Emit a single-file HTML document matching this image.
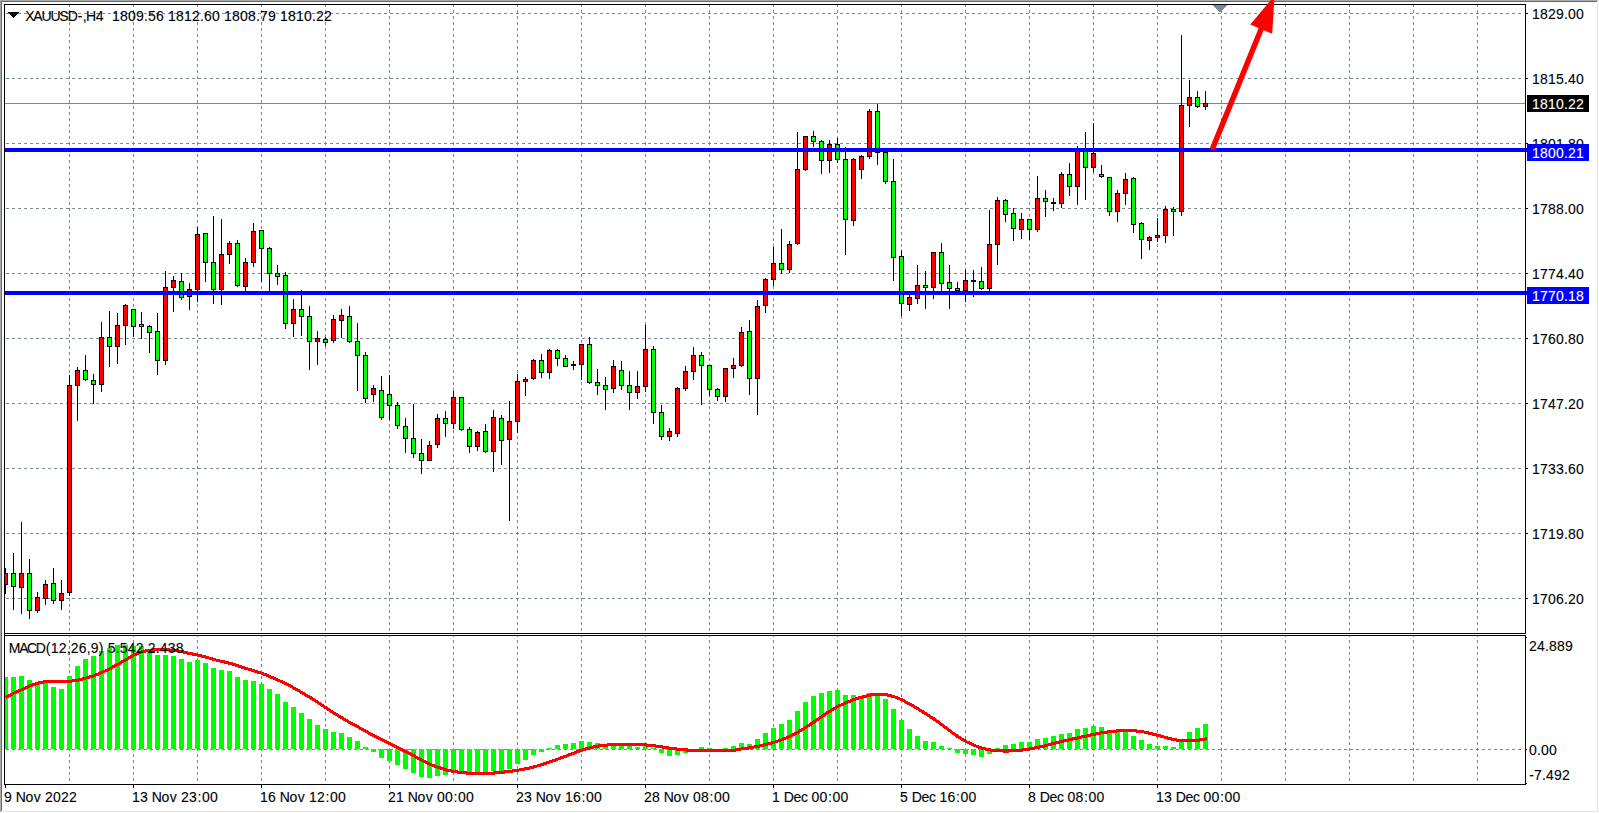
<!DOCTYPE html>
<html><head><meta charset="utf-8"><title>XAUUSD-,H4</title>
<style>
html,body{margin:0;padding:0;background:#fff;}
body{width:1599px;height:813px;overflow:hidden;}
svg{display:block;}
text{font-family:"Liberation Sans",sans-serif;font-size:14px;fill:#000;stroke:#000;stroke-width:0.1px;}
.w{fill:#fff;stroke:#fff;}
</style></head><body>
<svg width="1599" height="813" viewBox="0 0 1599 813">
<rect width="1599" height="813" fill="#fff"/>
<g shape-rendering="crispEdges">
<rect x="0" y="0" width="1598" height="1" fill="#a9a9a9"/>
<rect x="0" y="0" width="1" height="812" fill="#a9a9a9"/>
<rect x="1" y="1" width="1596" height="1" fill="#696969"/>
<rect x="1" y="1" width="1" height="810" fill="#696969"/>
<rect x="1597" y="2" width="1" height="810" fill="#e3e3e3"/>
<rect x="2" y="811" width="1596" height="1" fill="#e3e3e3"/>
<path d="M6 13.5H9M12 13.5H15M18 13.5H21M24 13.5H27M30 13.5H33M36 13.5H39M42 13.5H45M48 13.5H51M54 13.5H57M60 13.5H63M66 13.5H69M72 13.5H75M78 13.5H81M84 13.5H87M90 13.5H93M96 13.5H99M102 13.5H105M108 13.5H111M114 13.5H117M120 13.5H123M126 13.5H129M132 13.5H135M138 13.5H141M144 13.5H147M150 13.5H153M156 13.5H159M162 13.5H165M168 13.5H171M174 13.5H177M180 13.5H183M186 13.5H189M192 13.5H195M198 13.5H201M204 13.5H207M210 13.5H213M216 13.5H219M222 13.5H225M228 13.5H231M234 13.5H237M240 13.5H243M246 13.5H249M252 13.5H255M258 13.5H261M264 13.5H267M270 13.5H273M276 13.5H279M282 13.5H285M288 13.5H291M294 13.5H297M300 13.5H303M306 13.5H309M312 13.5H315M318 13.5H321M324 13.5H327M330 13.5H333M336 13.5H339M342 13.5H345M348 13.5H351M354 13.5H357M360 13.5H363M366 13.5H369M372 13.5H375M378 13.5H381M384 13.5H387M390 13.5H393M396 13.5H399M402 13.5H405M408 13.5H411M414 13.5H417M420 13.5H423M426 13.5H429M432 13.5H435M438 13.5H441M444 13.5H447M450 13.5H453M456 13.5H459M462 13.5H465M468 13.5H471M474 13.5H477M480 13.5H483M486 13.5H489M492 13.5H495M498 13.5H501M504 13.5H507M510 13.5H513M516 13.5H519M522 13.5H525M528 13.5H531M534 13.5H537M540 13.5H543M546 13.5H549M552 13.5H555M558 13.5H561M564 13.5H567M570 13.5H573M576 13.5H579M582 13.5H585M588 13.5H591M594 13.5H597M600 13.5H603M606 13.5H609M612 13.5H615M618 13.5H621M624 13.5H627M630 13.5H633M636 13.5H639M642 13.5H645M648 13.5H651M654 13.5H657M660 13.5H663M666 13.5H669M672 13.5H675M678 13.5H681M684 13.5H687M690 13.5H693M696 13.5H699M702 13.5H705M708 13.5H711M714 13.5H717M720 13.5H723M726 13.5H729M732 13.5H735M738 13.5H741M744 13.5H747M750 13.5H753M756 13.5H759M762 13.5H765M768 13.5H771M774 13.5H777M780 13.5H783M786 13.5H789M792 13.5H795M798 13.5H801M804 13.5H807M810 13.5H813M816 13.5H819M822 13.5H825M828 13.5H831M834 13.5H837M840 13.5H843M846 13.5H849M852 13.5H855M858 13.5H861M864 13.5H867M870 13.5H873M876 13.5H879M882 13.5H885M888 13.5H891M894 13.5H897M900 13.5H903M906 13.5H909M912 13.5H915M918 13.5H921M924 13.5H927M930 13.5H933M936 13.5H939M942 13.5H945M948 13.5H951M954 13.5H957M960 13.5H963M966 13.5H969M972 13.5H975M978 13.5H981M984 13.5H987M990 13.5H993M996 13.5H999M1002 13.5H1005M1008 13.5H1011M1014 13.5H1017M1020 13.5H1023M1026 13.5H1029M1032 13.5H1035M1038 13.5H1041M1044 13.5H1047M1050 13.5H1053M1056 13.5H1059M1062 13.5H1065M1068 13.5H1071M1074 13.5H1077M1080 13.5H1083M1086 13.5H1089M1092 13.5H1095M1098 13.5H1101M1104 13.5H1107M1110 13.5H1113M1116 13.5H1119M1122 13.5H1125M1128 13.5H1131M1134 13.5H1137M1140 13.5H1143M1146 13.5H1149M1152 13.5H1155M1158 13.5H1161M1164 13.5H1167M1170 13.5H1173M1176 13.5H1179M1182 13.5H1185M1188 13.5H1191M1194 13.5H1197M1200 13.5H1203M1206 13.5H1209M1212 13.5H1215M1218 13.5H1221M1224 13.5H1227M1230 13.5H1233M1236 13.5H1239M1242 13.5H1245M1248 13.5H1251M1254 13.5H1257M1260 13.5H1263M1266 13.5H1269M1272 13.5H1275M1278 13.5H1281M1284 13.5H1287M1290 13.5H1293M1296 13.5H1299M1302 13.5H1305M1308 13.5H1311M1314 13.5H1317M1320 13.5H1323M1326 13.5H1329M1332 13.5H1335M1338 13.5H1341M1344 13.5H1347M1350 13.5H1353M1356 13.5H1359M1362 13.5H1365M1368 13.5H1371M1374 13.5H1377M1380 13.5H1383M1386 13.5H1389M1392 13.5H1395M1398 13.5H1401M1404 13.5H1407M1410 13.5H1413M1416 13.5H1419M1422 13.5H1425M1428 13.5H1431M1434 13.5H1437M1440 13.5H1443M1446 13.5H1449M1452 13.5H1455M1458 13.5H1461M1464 13.5H1467M1470 13.5H1473M1476 13.5H1479M1482 13.5H1485M1488 13.5H1491M1494 13.5H1497M1500 13.5H1503M1506 13.5H1509M1512 13.5H1515M1518 13.5H1521M6 78.5H9M12 78.5H15M18 78.5H21M24 78.5H27M30 78.5H33M36 78.5H39M42 78.5H45M48 78.5H51M54 78.5H57M60 78.5H63M66 78.5H69M72 78.5H75M78 78.5H81M84 78.5H87M90 78.5H93M96 78.5H99M102 78.5H105M108 78.5H111M114 78.5H117M120 78.5H123M126 78.5H129M132 78.5H135M138 78.5H141M144 78.5H147M150 78.5H153M156 78.5H159M162 78.5H165M168 78.5H171M174 78.5H177M180 78.5H183M186 78.5H189M192 78.5H195M198 78.5H201M204 78.5H207M210 78.5H213M216 78.5H219M222 78.5H225M228 78.5H231M234 78.5H237M240 78.5H243M246 78.5H249M252 78.5H255M258 78.5H261M264 78.5H267M270 78.5H273M276 78.5H279M282 78.5H285M288 78.5H291M294 78.5H297M300 78.5H303M306 78.5H309M312 78.5H315M318 78.5H321M324 78.5H327M330 78.5H333M336 78.5H339M342 78.5H345M348 78.5H351M354 78.5H357M360 78.5H363M366 78.5H369M372 78.5H375M378 78.5H381M384 78.5H387M390 78.5H393M396 78.5H399M402 78.5H405M408 78.5H411M414 78.5H417M420 78.5H423M426 78.5H429M432 78.5H435M438 78.5H441M444 78.5H447M450 78.5H453M456 78.5H459M462 78.5H465M468 78.5H471M474 78.5H477M480 78.5H483M486 78.5H489M492 78.5H495M498 78.5H501M504 78.5H507M510 78.5H513M516 78.5H519M522 78.5H525M528 78.5H531M534 78.5H537M540 78.5H543M546 78.5H549M552 78.5H555M558 78.5H561M564 78.5H567M570 78.5H573M576 78.5H579M582 78.5H585M588 78.5H591M594 78.5H597M600 78.5H603M606 78.5H609M612 78.5H615M618 78.5H621M624 78.5H627M630 78.5H633M636 78.5H639M642 78.5H645M648 78.5H651M654 78.5H657M660 78.5H663M666 78.5H669M672 78.5H675M678 78.5H681M684 78.5H687M690 78.5H693M696 78.5H699M702 78.5H705M708 78.5H711M714 78.5H717M720 78.5H723M726 78.5H729M732 78.5H735M738 78.5H741M744 78.5H747M750 78.5H753M756 78.5H759M762 78.5H765M768 78.5H771M774 78.5H777M780 78.5H783M786 78.5H789M792 78.5H795M798 78.5H801M804 78.5H807M810 78.5H813M816 78.5H819M822 78.5H825M828 78.5H831M834 78.5H837M840 78.5H843M846 78.5H849M852 78.5H855M858 78.5H861M864 78.5H867M870 78.5H873M876 78.5H879M882 78.5H885M888 78.5H891M894 78.5H897M900 78.5H903M906 78.5H909M912 78.5H915M918 78.5H921M924 78.5H927M930 78.5H933M936 78.5H939M942 78.5H945M948 78.5H951M954 78.5H957M960 78.5H963M966 78.5H969M972 78.5H975M978 78.5H981M984 78.5H987M990 78.5H993M996 78.5H999M1002 78.5H1005M1008 78.5H1011M1014 78.5H1017M1020 78.5H1023M1026 78.5H1029M1032 78.5H1035M1038 78.5H1041M1044 78.5H1047M1050 78.5H1053M1056 78.5H1059M1062 78.5H1065M1068 78.5H1071M1074 78.5H1077M1080 78.5H1083M1086 78.5H1089M1092 78.5H1095M1098 78.5H1101M1104 78.5H1107M1110 78.5H1113M1116 78.5H1119M1122 78.5H1125M1128 78.5H1131M1134 78.5H1137M1140 78.5H1143M1146 78.5H1149M1152 78.5H1155M1158 78.5H1161M1164 78.5H1167M1170 78.5H1173M1176 78.5H1179M1182 78.5H1185M1188 78.5H1191M1194 78.5H1197M1200 78.5H1203M1206 78.5H1209M1212 78.5H1215M1218 78.5H1221M1224 78.5H1227M1230 78.5H1233M1236 78.5H1239M1242 78.5H1245M1248 78.5H1251M1254 78.5H1257M1260 78.5H1263M1266 78.5H1269M1272 78.5H1275M1278 78.5H1281M1284 78.5H1287M1290 78.5H1293M1296 78.5H1299M1302 78.5H1305M1308 78.5H1311M1314 78.5H1317M1320 78.5H1323M1326 78.5H1329M1332 78.5H1335M1338 78.5H1341M1344 78.5H1347M1350 78.5H1353M1356 78.5H1359M1362 78.5H1365M1368 78.5H1371M1374 78.5H1377M1380 78.5H1383M1386 78.5H1389M1392 78.5H1395M1398 78.5H1401M1404 78.5H1407M1410 78.5H1413M1416 78.5H1419M1422 78.5H1425M1428 78.5H1431M1434 78.5H1437M1440 78.5H1443M1446 78.5H1449M1452 78.5H1455M1458 78.5H1461M1464 78.5H1467M1470 78.5H1473M1476 78.5H1479M1482 78.5H1485M1488 78.5H1491M1494 78.5H1497M1500 78.5H1503M1506 78.5H1509M1512 78.5H1515M1518 78.5H1521M6 143.5H9M12 143.5H15M18 143.5H21M24 143.5H27M30 143.5H33M36 143.5H39M42 143.5H45M48 143.5H51M54 143.5H57M60 143.5H63M66 143.5H69M72 143.5H75M78 143.5H81M84 143.5H87M90 143.5H93M96 143.5H99M102 143.5H105M108 143.5H111M114 143.5H117M120 143.5H123M126 143.5H129M132 143.5H135M138 143.5H141M144 143.5H147M150 143.5H153M156 143.5H159M162 143.5H165M168 143.5H171M174 143.5H177M180 143.5H183M186 143.5H189M192 143.5H195M198 143.5H201M204 143.5H207M210 143.5H213M216 143.5H219M222 143.5H225M228 143.5H231M234 143.5H237M240 143.5H243M246 143.5H249M252 143.5H255M258 143.5H261M264 143.5H267M270 143.5H273M276 143.5H279M282 143.5H285M288 143.5H291M294 143.5H297M300 143.5H303M306 143.5H309M312 143.5H315M318 143.5H321M324 143.5H327M330 143.5H333M336 143.5H339M342 143.5H345M348 143.5H351M354 143.5H357M360 143.5H363M366 143.5H369M372 143.5H375M378 143.5H381M384 143.5H387M390 143.5H393M396 143.5H399M402 143.5H405M408 143.5H411M414 143.5H417M420 143.5H423M426 143.5H429M432 143.5H435M438 143.5H441M444 143.5H447M450 143.5H453M456 143.5H459M462 143.5H465M468 143.5H471M474 143.5H477M480 143.5H483M486 143.5H489M492 143.5H495M498 143.5H501M504 143.5H507M510 143.5H513M516 143.5H519M522 143.5H525M528 143.5H531M534 143.5H537M540 143.5H543M546 143.5H549M552 143.5H555M558 143.5H561M564 143.5H567M570 143.5H573M576 143.5H579M582 143.5H585M588 143.5H591M594 143.5H597M600 143.5H603M606 143.5H609M612 143.5H615M618 143.5H621M624 143.5H627M630 143.5H633M636 143.5H639M642 143.5H645M648 143.5H651M654 143.5H657M660 143.5H663M666 143.5H669M672 143.5H675M678 143.5H681M684 143.5H687M690 143.5H693M696 143.5H699M702 143.5H705M708 143.5H711M714 143.5H717M720 143.5H723M726 143.5H729M732 143.5H735M738 143.5H741M744 143.5H747M750 143.5H753M756 143.5H759M762 143.5H765M768 143.5H771M774 143.5H777M780 143.5H783M786 143.5H789M792 143.5H795M798 143.5H801M804 143.5H807M810 143.5H813M816 143.5H819M822 143.5H825M828 143.5H831M834 143.5H837M840 143.5H843M846 143.5H849M852 143.5H855M858 143.5H861M864 143.5H867M870 143.5H873M876 143.5H879M882 143.5H885M888 143.5H891M894 143.5H897M900 143.5H903M906 143.5H909M912 143.5H915M918 143.5H921M924 143.5H927M930 143.5H933M936 143.5H939M942 143.5H945M948 143.5H951M954 143.5H957M960 143.5H963M966 143.5H969M972 143.5H975M978 143.5H981M984 143.5H987M990 143.5H993M996 143.5H999M1002 143.5H1005M1008 143.5H1011M1014 143.5H1017M1020 143.5H1023M1026 143.5H1029M1032 143.5H1035M1038 143.5H1041M1044 143.5H1047M1050 143.5H1053M1056 143.5H1059M1062 143.5H1065M1068 143.5H1071M1074 143.5H1077M1080 143.5H1083M1086 143.5H1089M1092 143.5H1095M1098 143.5H1101M1104 143.5H1107M1110 143.5H1113M1116 143.5H1119M1122 143.5H1125M1128 143.5H1131M1134 143.5H1137M1140 143.5H1143M1146 143.5H1149M1152 143.5H1155M1158 143.5H1161M1164 143.5H1167M1170 143.5H1173M1176 143.5H1179M1182 143.5H1185M1188 143.5H1191M1194 143.5H1197M1200 143.5H1203M1206 143.5H1209M1212 143.5H1215M1218 143.5H1221M1224 143.5H1227M1230 143.5H1233M1236 143.5H1239M1242 143.5H1245M1248 143.5H1251M1254 143.5H1257M1260 143.5H1263M1266 143.5H1269M1272 143.5H1275M1278 143.5H1281M1284 143.5H1287M1290 143.5H1293M1296 143.5H1299M1302 143.5H1305M1308 143.5H1311M1314 143.5H1317M1320 143.5H1323M1326 143.5H1329M1332 143.5H1335M1338 143.5H1341M1344 143.5H1347M1350 143.5H1353M1356 143.5H1359M1362 143.5H1365M1368 143.5H1371M1374 143.5H1377M1380 143.5H1383M1386 143.5H1389M1392 143.5H1395M1398 143.5H1401M1404 143.5H1407M1410 143.5H1413M1416 143.5H1419M1422 143.5H1425M1428 143.5H1431M1434 143.5H1437M1440 143.5H1443M1446 143.5H1449M1452 143.5H1455M1458 143.5H1461M1464 143.5H1467M1470 143.5H1473M1476 143.5H1479M1482 143.5H1485M1488 143.5H1491M1494 143.5H1497M1500 143.5H1503M1506 143.5H1509M1512 143.5H1515M1518 143.5H1521M6 208.5H9M12 208.5H15M18 208.5H21M24 208.5H27M30 208.5H33M36 208.5H39M42 208.5H45M48 208.5H51M54 208.5H57M60 208.5H63M66 208.5H69M72 208.5H75M78 208.5H81M84 208.5H87M90 208.5H93M96 208.5H99M102 208.5H105M108 208.5H111M114 208.5H117M120 208.5H123M126 208.5H129M132 208.5H135M138 208.5H141M144 208.5H147M150 208.5H153M156 208.5H159M162 208.5H165M168 208.5H171M174 208.5H177M180 208.5H183M186 208.5H189M192 208.5H195M198 208.5H201M204 208.5H207M210 208.5H213M216 208.5H219M222 208.5H225M228 208.5H231M234 208.5H237M240 208.5H243M246 208.5H249M252 208.5H255M258 208.5H261M264 208.5H267M270 208.5H273M276 208.5H279M282 208.5H285M288 208.5H291M294 208.5H297M300 208.5H303M306 208.5H309M312 208.5H315M318 208.5H321M324 208.5H327M330 208.5H333M336 208.5H339M342 208.5H345M348 208.5H351M354 208.5H357M360 208.5H363M366 208.5H369M372 208.5H375M378 208.5H381M384 208.5H387M390 208.5H393M396 208.5H399M402 208.5H405M408 208.5H411M414 208.5H417M420 208.5H423M426 208.5H429M432 208.5H435M438 208.5H441M444 208.5H447M450 208.5H453M456 208.5H459M462 208.5H465M468 208.5H471M474 208.5H477M480 208.5H483M486 208.5H489M492 208.5H495M498 208.5H501M504 208.5H507M510 208.5H513M516 208.5H519M522 208.5H525M528 208.5H531M534 208.5H537M540 208.5H543M546 208.5H549M552 208.5H555M558 208.5H561M564 208.5H567M570 208.5H573M576 208.5H579M582 208.5H585M588 208.5H591M594 208.5H597M600 208.5H603M606 208.5H609M612 208.5H615M618 208.5H621M624 208.5H627M630 208.5H633M636 208.5H639M642 208.5H645M648 208.5H651M654 208.5H657M660 208.5H663M666 208.5H669M672 208.5H675M678 208.5H681M684 208.5H687M690 208.5H693M696 208.5H699M702 208.5H705M708 208.5H711M714 208.5H717M720 208.5H723M726 208.5H729M732 208.5H735M738 208.5H741M744 208.5H747M750 208.5H753M756 208.5H759M762 208.5H765M768 208.5H771M774 208.5H777M780 208.5H783M786 208.5H789M792 208.5H795M798 208.5H801M804 208.5H807M810 208.5H813M816 208.5H819M822 208.5H825M828 208.5H831M834 208.5H837M840 208.5H843M846 208.5H849M852 208.5H855M858 208.5H861M864 208.5H867M870 208.5H873M876 208.5H879M882 208.5H885M888 208.5H891M894 208.5H897M900 208.5H903M906 208.5H909M912 208.5H915M918 208.5H921M924 208.5H927M930 208.5H933M936 208.5H939M942 208.5H945M948 208.5H951M954 208.5H957M960 208.5H963M966 208.5H969M972 208.5H975M978 208.5H981M984 208.5H987M990 208.5H993M996 208.5H999M1002 208.5H1005M1008 208.5H1011M1014 208.5H1017M1020 208.5H1023M1026 208.5H1029M1032 208.5H1035M1038 208.5H1041M1044 208.5H1047M1050 208.5H1053M1056 208.5H1059M1062 208.5H1065M1068 208.5H1071M1074 208.5H1077M1080 208.5H1083M1086 208.5H1089M1092 208.5H1095M1098 208.5H1101M1104 208.5H1107M1110 208.5H1113M1116 208.5H1119M1122 208.5H1125M1128 208.5H1131M1134 208.5H1137M1140 208.5H1143M1146 208.5H1149M1152 208.5H1155M1158 208.5H1161M1164 208.5H1167M1170 208.5H1173M1176 208.5H1179M1182 208.5H1185M1188 208.5H1191M1194 208.5H1197M1200 208.5H1203M1206 208.5H1209M1212 208.5H1215M1218 208.5H1221M1224 208.5H1227M1230 208.5H1233M1236 208.5H1239M1242 208.5H1245M1248 208.5H1251M1254 208.5H1257M1260 208.5H1263M1266 208.5H1269M1272 208.5H1275M1278 208.5H1281M1284 208.5H1287M1290 208.5H1293M1296 208.5H1299M1302 208.5H1305M1308 208.5H1311M1314 208.5H1317M1320 208.5H1323M1326 208.5H1329M1332 208.5H1335M1338 208.5H1341M1344 208.5H1347M1350 208.5H1353M1356 208.5H1359M1362 208.5H1365M1368 208.5H1371M1374 208.5H1377M1380 208.5H1383M1386 208.5H1389M1392 208.5H1395M1398 208.5H1401M1404 208.5H1407M1410 208.5H1413M1416 208.5H1419M1422 208.5H1425M1428 208.5H1431M1434 208.5H1437M1440 208.5H1443M1446 208.5H1449M1452 208.5H1455M1458 208.5H1461M1464 208.5H1467M1470 208.5H1473M1476 208.5H1479M1482 208.5H1485M1488 208.5H1491M1494 208.5H1497M1500 208.5H1503M1506 208.5H1509M1512 208.5H1515M1518 208.5H1521M6 273.5H9M12 273.5H15M18 273.5H21M24 273.5H27M30 273.5H33M36 273.5H39M42 273.5H45M48 273.5H51M54 273.5H57M60 273.5H63M66 273.5H69M72 273.5H75M78 273.5H81M84 273.5H87M90 273.5H93M96 273.5H99M102 273.5H105M108 273.5H111M114 273.5H117M120 273.5H123M126 273.5H129M132 273.5H135M138 273.5H141M144 273.5H147M150 273.5H153M156 273.5H159M162 273.5H165M168 273.5H171M174 273.5H177M180 273.5H183M186 273.5H189M192 273.5H195M198 273.5H201M204 273.5H207M210 273.5H213M216 273.5H219M222 273.5H225M228 273.5H231M234 273.5H237M240 273.5H243M246 273.5H249M252 273.5H255M258 273.5H261M264 273.5H267M270 273.5H273M276 273.5H279M282 273.5H285M288 273.5H291M294 273.5H297M300 273.5H303M306 273.5H309M312 273.5H315M318 273.5H321M324 273.5H327M330 273.5H333M336 273.5H339M342 273.5H345M348 273.5H351M354 273.5H357M360 273.5H363M366 273.5H369M372 273.5H375M378 273.5H381M384 273.5H387M390 273.5H393M396 273.5H399M402 273.5H405M408 273.5H411M414 273.5H417M420 273.5H423M426 273.5H429M432 273.5H435M438 273.5H441M444 273.5H447M450 273.5H453M456 273.5H459M462 273.5H465M468 273.5H471M474 273.5H477M480 273.5H483M486 273.5H489M492 273.5H495M498 273.5H501M504 273.5H507M510 273.5H513M516 273.5H519M522 273.5H525M528 273.5H531M534 273.5H537M540 273.5H543M546 273.5H549M552 273.5H555M558 273.5H561M564 273.5H567M570 273.5H573M576 273.5H579M582 273.5H585M588 273.5H591M594 273.5H597M600 273.5H603M606 273.5H609M612 273.5H615M618 273.5H621M624 273.5H627M630 273.5H633M636 273.5H639M642 273.5H645M648 273.5H651M654 273.5H657M660 273.5H663M666 273.5H669M672 273.5H675M678 273.5H681M684 273.5H687M690 273.5H693M696 273.5H699M702 273.5H705M708 273.5H711M714 273.5H717M720 273.5H723M726 273.5H729M732 273.5H735M738 273.5H741M744 273.5H747M750 273.5H753M756 273.5H759M762 273.5H765M768 273.5H771M774 273.5H777M780 273.5H783M786 273.5H789M792 273.5H795M798 273.5H801M804 273.5H807M810 273.5H813M816 273.5H819M822 273.5H825M828 273.5H831M834 273.5H837M840 273.5H843M846 273.5H849M852 273.5H855M858 273.5H861M864 273.5H867M870 273.5H873M876 273.5H879M882 273.5H885M888 273.5H891M894 273.5H897M900 273.5H903M906 273.5H909M912 273.5H915M918 273.5H921M924 273.5H927M930 273.5H933M936 273.5H939M942 273.5H945M948 273.5H951M954 273.5H957M960 273.5H963M966 273.5H969M972 273.5H975M978 273.5H981M984 273.5H987M990 273.5H993M996 273.5H999M1002 273.5H1005M1008 273.5H1011M1014 273.5H1017M1020 273.5H1023M1026 273.5H1029M1032 273.5H1035M1038 273.5H1041M1044 273.5H1047M1050 273.5H1053M1056 273.5H1059M1062 273.5H1065M1068 273.5H1071M1074 273.5H1077M1080 273.5H1083M1086 273.5H1089M1092 273.5H1095M1098 273.5H1101M1104 273.5H1107M1110 273.5H1113M1116 273.5H1119M1122 273.5H1125M1128 273.5H1131M1134 273.5H1137M1140 273.5H1143M1146 273.5H1149M1152 273.5H1155M1158 273.5H1161M1164 273.5H1167M1170 273.5H1173M1176 273.5H1179M1182 273.5H1185M1188 273.5H1191M1194 273.5H1197M1200 273.5H1203M1206 273.5H1209M1212 273.5H1215M1218 273.5H1221M1224 273.5H1227M1230 273.5H1233M1236 273.5H1239M1242 273.5H1245M1248 273.5H1251M1254 273.5H1257M1260 273.5H1263M1266 273.5H1269M1272 273.5H1275M1278 273.5H1281M1284 273.5H1287M1290 273.5H1293M1296 273.5H1299M1302 273.5H1305M1308 273.5H1311M1314 273.5H1317M1320 273.5H1323M1326 273.5H1329M1332 273.5H1335M1338 273.5H1341M1344 273.5H1347M1350 273.5H1353M1356 273.5H1359M1362 273.5H1365M1368 273.5H1371M1374 273.5H1377M1380 273.5H1383M1386 273.5H1389M1392 273.5H1395M1398 273.5H1401M1404 273.5H1407M1410 273.5H1413M1416 273.5H1419M1422 273.5H1425M1428 273.5H1431M1434 273.5H1437M1440 273.5H1443M1446 273.5H1449M1452 273.5H1455M1458 273.5H1461M1464 273.5H1467M1470 273.5H1473M1476 273.5H1479M1482 273.5H1485M1488 273.5H1491M1494 273.5H1497M1500 273.5H1503M1506 273.5H1509M1512 273.5H1515M1518 273.5H1521M6 338.5H9M12 338.5H15M18 338.5H21M24 338.5H27M30 338.5H33M36 338.5H39M42 338.5H45M48 338.5H51M54 338.5H57M60 338.5H63M66 338.5H69M72 338.5H75M78 338.5H81M84 338.5H87M90 338.5H93M96 338.5H99M102 338.5H105M108 338.5H111M114 338.5H117M120 338.5H123M126 338.5H129M132 338.5H135M138 338.5H141M144 338.5H147M150 338.5H153M156 338.5H159M162 338.5H165M168 338.5H171M174 338.5H177M180 338.5H183M186 338.5H189M192 338.5H195M198 338.5H201M204 338.5H207M210 338.5H213M216 338.5H219M222 338.5H225M228 338.5H231M234 338.5H237M240 338.5H243M246 338.5H249M252 338.5H255M258 338.5H261M264 338.5H267M270 338.5H273M276 338.5H279M282 338.5H285M288 338.5H291M294 338.5H297M300 338.5H303M306 338.5H309M312 338.5H315M318 338.5H321M324 338.5H327M330 338.5H333M336 338.5H339M342 338.5H345M348 338.5H351M354 338.5H357M360 338.5H363M366 338.5H369M372 338.5H375M378 338.5H381M384 338.5H387M390 338.5H393M396 338.5H399M402 338.5H405M408 338.5H411M414 338.5H417M420 338.5H423M426 338.5H429M432 338.5H435M438 338.5H441M444 338.5H447M450 338.5H453M456 338.5H459M462 338.5H465M468 338.5H471M474 338.5H477M480 338.5H483M486 338.5H489M492 338.5H495M498 338.5H501M504 338.5H507M510 338.5H513M516 338.5H519M522 338.5H525M528 338.5H531M534 338.5H537M540 338.5H543M546 338.5H549M552 338.5H555M558 338.5H561M564 338.5H567M570 338.5H573M576 338.5H579M582 338.5H585M588 338.5H591M594 338.5H597M600 338.5H603M606 338.5H609M612 338.5H615M618 338.5H621M624 338.5H627M630 338.5H633M636 338.5H639M642 338.5H645M648 338.5H651M654 338.5H657M660 338.5H663M666 338.5H669M672 338.5H675M678 338.5H681M684 338.5H687M690 338.5H693M696 338.5H699M702 338.5H705M708 338.5H711M714 338.5H717M720 338.5H723M726 338.5H729M732 338.5H735M738 338.5H741M744 338.5H747M750 338.5H753M756 338.5H759M762 338.5H765M768 338.5H771M774 338.5H777M780 338.5H783M786 338.5H789M792 338.5H795M798 338.5H801M804 338.5H807M810 338.5H813M816 338.5H819M822 338.5H825M828 338.5H831M834 338.5H837M840 338.5H843M846 338.5H849M852 338.5H855M858 338.5H861M864 338.5H867M870 338.5H873M876 338.5H879M882 338.5H885M888 338.5H891M894 338.5H897M900 338.5H903M906 338.5H909M912 338.5H915M918 338.5H921M924 338.5H927M930 338.5H933M936 338.5H939M942 338.5H945M948 338.5H951M954 338.5H957M960 338.5H963M966 338.5H969M972 338.5H975M978 338.5H981M984 338.5H987M990 338.5H993M996 338.5H999M1002 338.5H1005M1008 338.5H1011M1014 338.5H1017M1020 338.5H1023M1026 338.5H1029M1032 338.5H1035M1038 338.5H1041M1044 338.5H1047M1050 338.5H1053M1056 338.5H1059M1062 338.5H1065M1068 338.5H1071M1074 338.5H1077M1080 338.5H1083M1086 338.5H1089M1092 338.5H1095M1098 338.5H1101M1104 338.5H1107M1110 338.5H1113M1116 338.5H1119M1122 338.5H1125M1128 338.5H1131M1134 338.5H1137M1140 338.5H1143M1146 338.5H1149M1152 338.5H1155M1158 338.5H1161M1164 338.5H1167M1170 338.5H1173M1176 338.5H1179M1182 338.5H1185M1188 338.5H1191M1194 338.5H1197M1200 338.5H1203M1206 338.5H1209M1212 338.5H1215M1218 338.5H1221M1224 338.5H1227M1230 338.5H1233M1236 338.5H1239M1242 338.5H1245M1248 338.5H1251M1254 338.5H1257M1260 338.5H1263M1266 338.5H1269M1272 338.5H1275M1278 338.5H1281M1284 338.5H1287M1290 338.5H1293M1296 338.5H1299M1302 338.5H1305M1308 338.5H1311M1314 338.5H1317M1320 338.5H1323M1326 338.5H1329M1332 338.5H1335M1338 338.5H1341M1344 338.5H1347M1350 338.5H1353M1356 338.5H1359M1362 338.5H1365M1368 338.5H1371M1374 338.5H1377M1380 338.5H1383M1386 338.5H1389M1392 338.5H1395M1398 338.5H1401M1404 338.5H1407M1410 338.5H1413M1416 338.5H1419M1422 338.5H1425M1428 338.5H1431M1434 338.5H1437M1440 338.5H1443M1446 338.5H1449M1452 338.5H1455M1458 338.5H1461M1464 338.5H1467M1470 338.5H1473M1476 338.5H1479M1482 338.5H1485M1488 338.5H1491M1494 338.5H1497M1500 338.5H1503M1506 338.5H1509M1512 338.5H1515M1518 338.5H1521M6 403.5H9M12 403.5H15M18 403.5H21M24 403.5H27M30 403.5H33M36 403.5H39M42 403.5H45M48 403.5H51M54 403.5H57M60 403.5H63M66 403.5H69M72 403.5H75M78 403.5H81M84 403.5H87M90 403.5H93M96 403.5H99M102 403.5H105M108 403.5H111M114 403.5H117M120 403.5H123M126 403.5H129M132 403.5H135M138 403.5H141M144 403.5H147M150 403.5H153M156 403.5H159M162 403.5H165M168 403.5H171M174 403.5H177M180 403.5H183M186 403.5H189M192 403.5H195M198 403.5H201M204 403.5H207M210 403.5H213M216 403.5H219M222 403.5H225M228 403.5H231M234 403.5H237M240 403.5H243M246 403.5H249M252 403.5H255M258 403.5H261M264 403.5H267M270 403.5H273M276 403.5H279M282 403.5H285M288 403.5H291M294 403.5H297M300 403.5H303M306 403.5H309M312 403.5H315M318 403.5H321M324 403.5H327M330 403.5H333M336 403.5H339M342 403.5H345M348 403.5H351M354 403.5H357M360 403.5H363M366 403.5H369M372 403.5H375M378 403.5H381M384 403.5H387M390 403.5H393M396 403.5H399M402 403.5H405M408 403.5H411M414 403.5H417M420 403.5H423M426 403.5H429M432 403.5H435M438 403.5H441M444 403.5H447M450 403.5H453M456 403.5H459M462 403.5H465M468 403.5H471M474 403.5H477M480 403.5H483M486 403.5H489M492 403.5H495M498 403.5H501M504 403.5H507M510 403.5H513M516 403.5H519M522 403.5H525M528 403.5H531M534 403.5H537M540 403.5H543M546 403.5H549M552 403.5H555M558 403.5H561M564 403.5H567M570 403.5H573M576 403.5H579M582 403.5H585M588 403.5H591M594 403.5H597M600 403.5H603M606 403.5H609M612 403.5H615M618 403.5H621M624 403.5H627M630 403.5H633M636 403.5H639M642 403.5H645M648 403.5H651M654 403.5H657M660 403.5H663M666 403.5H669M672 403.5H675M678 403.5H681M684 403.5H687M690 403.5H693M696 403.5H699M702 403.5H705M708 403.5H711M714 403.5H717M720 403.5H723M726 403.5H729M732 403.5H735M738 403.5H741M744 403.5H747M750 403.5H753M756 403.5H759M762 403.5H765M768 403.5H771M774 403.5H777M780 403.5H783M786 403.5H789M792 403.5H795M798 403.5H801M804 403.5H807M810 403.5H813M816 403.5H819M822 403.5H825M828 403.5H831M834 403.5H837M840 403.5H843M846 403.5H849M852 403.5H855M858 403.5H861M864 403.5H867M870 403.5H873M876 403.5H879M882 403.5H885M888 403.5H891M894 403.5H897M900 403.5H903M906 403.5H909M912 403.5H915M918 403.5H921M924 403.5H927M930 403.5H933M936 403.5H939M942 403.5H945M948 403.5H951M954 403.5H957M960 403.5H963M966 403.5H969M972 403.5H975M978 403.5H981M984 403.5H987M990 403.5H993M996 403.5H999M1002 403.5H1005M1008 403.5H1011M1014 403.5H1017M1020 403.5H1023M1026 403.5H1029M1032 403.5H1035M1038 403.5H1041M1044 403.5H1047M1050 403.5H1053M1056 403.5H1059M1062 403.5H1065M1068 403.5H1071M1074 403.5H1077M1080 403.5H1083M1086 403.5H1089M1092 403.5H1095M1098 403.5H1101M1104 403.5H1107M1110 403.5H1113M1116 403.5H1119M1122 403.5H1125M1128 403.5H1131M1134 403.5H1137M1140 403.5H1143M1146 403.5H1149M1152 403.5H1155M1158 403.5H1161M1164 403.5H1167M1170 403.5H1173M1176 403.5H1179M1182 403.5H1185M1188 403.5H1191M1194 403.5H1197M1200 403.5H1203M1206 403.5H1209M1212 403.5H1215M1218 403.5H1221M1224 403.5H1227M1230 403.5H1233M1236 403.5H1239M1242 403.5H1245M1248 403.5H1251M1254 403.5H1257M1260 403.5H1263M1266 403.5H1269M1272 403.5H1275M1278 403.5H1281M1284 403.5H1287M1290 403.5H1293M1296 403.5H1299M1302 403.5H1305M1308 403.5H1311M1314 403.5H1317M1320 403.5H1323M1326 403.5H1329M1332 403.5H1335M1338 403.5H1341M1344 403.5H1347M1350 403.5H1353M1356 403.5H1359M1362 403.5H1365M1368 403.5H1371M1374 403.5H1377M1380 403.5H1383M1386 403.5H1389M1392 403.5H1395M1398 403.5H1401M1404 403.5H1407M1410 403.5H1413M1416 403.5H1419M1422 403.5H1425M1428 403.5H1431M1434 403.5H1437M1440 403.5H1443M1446 403.5H1449M1452 403.5H1455M1458 403.5H1461M1464 403.5H1467M1470 403.5H1473M1476 403.5H1479M1482 403.5H1485M1488 403.5H1491M1494 403.5H1497M1500 403.5H1503M1506 403.5H1509M1512 403.5H1515M1518 403.5H1521M6 468.5H9M12 468.5H15M18 468.5H21M24 468.5H27M30 468.5H33M36 468.5H39M42 468.5H45M48 468.5H51M54 468.5H57M60 468.5H63M66 468.5H69M72 468.5H75M78 468.5H81M84 468.5H87M90 468.5H93M96 468.5H99M102 468.5H105M108 468.5H111M114 468.5H117M120 468.5H123M126 468.5H129M132 468.5H135M138 468.5H141M144 468.5H147M150 468.5H153M156 468.5H159M162 468.5H165M168 468.5H171M174 468.5H177M180 468.5H183M186 468.5H189M192 468.5H195M198 468.5H201M204 468.5H207M210 468.5H213M216 468.5H219M222 468.5H225M228 468.5H231M234 468.5H237M240 468.5H243M246 468.5H249M252 468.5H255M258 468.5H261M264 468.5H267M270 468.5H273M276 468.5H279M282 468.5H285M288 468.5H291M294 468.5H297M300 468.5H303M306 468.5H309M312 468.5H315M318 468.5H321M324 468.5H327M330 468.5H333M336 468.5H339M342 468.5H345M348 468.5H351M354 468.5H357M360 468.5H363M366 468.5H369M372 468.5H375M378 468.5H381M384 468.5H387M390 468.5H393M396 468.5H399M402 468.5H405M408 468.5H411M414 468.5H417M420 468.5H423M426 468.5H429M432 468.5H435M438 468.5H441M444 468.5H447M450 468.5H453M456 468.5H459M462 468.5H465M468 468.5H471M474 468.5H477M480 468.5H483M486 468.5H489M492 468.5H495M498 468.5H501M504 468.5H507M510 468.5H513M516 468.5H519M522 468.5H525M528 468.5H531M534 468.5H537M540 468.5H543M546 468.5H549M552 468.5H555M558 468.5H561M564 468.5H567M570 468.5H573M576 468.5H579M582 468.5H585M588 468.5H591M594 468.5H597M600 468.5H603M606 468.5H609M612 468.5H615M618 468.5H621M624 468.5H627M630 468.5H633M636 468.5H639M642 468.5H645M648 468.5H651M654 468.5H657M660 468.5H663M666 468.5H669M672 468.5H675M678 468.5H681M684 468.5H687M690 468.5H693M696 468.5H699M702 468.5H705M708 468.5H711M714 468.5H717M720 468.5H723M726 468.5H729M732 468.5H735M738 468.5H741M744 468.5H747M750 468.5H753M756 468.5H759M762 468.5H765M768 468.5H771M774 468.5H777M780 468.5H783M786 468.5H789M792 468.5H795M798 468.5H801M804 468.5H807M810 468.5H813M816 468.5H819M822 468.5H825M828 468.5H831M834 468.5H837M840 468.5H843M846 468.5H849M852 468.5H855M858 468.5H861M864 468.5H867M870 468.5H873M876 468.5H879M882 468.5H885M888 468.5H891M894 468.5H897M900 468.5H903M906 468.5H909M912 468.5H915M918 468.5H921M924 468.5H927M930 468.5H933M936 468.5H939M942 468.5H945M948 468.5H951M954 468.5H957M960 468.5H963M966 468.5H969M972 468.5H975M978 468.5H981M984 468.5H987M990 468.5H993M996 468.5H999M1002 468.5H1005M1008 468.5H1011M1014 468.5H1017M1020 468.5H1023M1026 468.5H1029M1032 468.5H1035M1038 468.5H1041M1044 468.5H1047M1050 468.5H1053M1056 468.5H1059M1062 468.5H1065M1068 468.5H1071M1074 468.5H1077M1080 468.5H1083M1086 468.5H1089M1092 468.5H1095M1098 468.5H1101M1104 468.5H1107M1110 468.5H1113M1116 468.5H1119M1122 468.5H1125M1128 468.5H1131M1134 468.5H1137M1140 468.5H1143M1146 468.5H1149M1152 468.5H1155M1158 468.5H1161M1164 468.5H1167M1170 468.5H1173M1176 468.5H1179M1182 468.5H1185M1188 468.5H1191M1194 468.5H1197M1200 468.5H1203M1206 468.5H1209M1212 468.5H1215M1218 468.5H1221M1224 468.5H1227M1230 468.5H1233M1236 468.5H1239M1242 468.5H1245M1248 468.5H1251M1254 468.5H1257M1260 468.5H1263M1266 468.5H1269M1272 468.5H1275M1278 468.5H1281M1284 468.5H1287M1290 468.5H1293M1296 468.5H1299M1302 468.5H1305M1308 468.5H1311M1314 468.5H1317M1320 468.5H1323M1326 468.5H1329M1332 468.5H1335M1338 468.5H1341M1344 468.5H1347M1350 468.5H1353M1356 468.5H1359M1362 468.5H1365M1368 468.5H1371M1374 468.5H1377M1380 468.5H1383M1386 468.5H1389M1392 468.5H1395M1398 468.5H1401M1404 468.5H1407M1410 468.5H1413M1416 468.5H1419M1422 468.5H1425M1428 468.5H1431M1434 468.5H1437M1440 468.5H1443M1446 468.5H1449M1452 468.5H1455M1458 468.5H1461M1464 468.5H1467M1470 468.5H1473M1476 468.5H1479M1482 468.5H1485M1488 468.5H1491M1494 468.5H1497M1500 468.5H1503M1506 468.5H1509M1512 468.5H1515M1518 468.5H1521M6 533.5H9M12 533.5H15M18 533.5H21M24 533.5H27M30 533.5H33M36 533.5H39M42 533.5H45M48 533.5H51M54 533.5H57M60 533.5H63M66 533.5H69M72 533.5H75M78 533.5H81M84 533.5H87M90 533.5H93M96 533.5H99M102 533.5H105M108 533.5H111M114 533.5H117M120 533.5H123M126 533.5H129M132 533.5H135M138 533.5H141M144 533.5H147M150 533.5H153M156 533.5H159M162 533.5H165M168 533.5H171M174 533.5H177M180 533.5H183M186 533.5H189M192 533.5H195M198 533.5H201M204 533.5H207M210 533.5H213M216 533.5H219M222 533.5H225M228 533.5H231M234 533.5H237M240 533.5H243M246 533.5H249M252 533.5H255M258 533.5H261M264 533.5H267M270 533.5H273M276 533.5H279M282 533.5H285M288 533.5H291M294 533.5H297M300 533.5H303M306 533.5H309M312 533.5H315M318 533.5H321M324 533.5H327M330 533.5H333M336 533.5H339M342 533.5H345M348 533.5H351M354 533.5H357M360 533.5H363M366 533.5H369M372 533.5H375M378 533.5H381M384 533.5H387M390 533.5H393M396 533.5H399M402 533.5H405M408 533.5H411M414 533.5H417M420 533.5H423M426 533.5H429M432 533.5H435M438 533.5H441M444 533.5H447M450 533.5H453M456 533.5H459M462 533.5H465M468 533.5H471M474 533.5H477M480 533.5H483M486 533.5H489M492 533.5H495M498 533.5H501M504 533.5H507M510 533.5H513M516 533.5H519M522 533.5H525M528 533.5H531M534 533.5H537M540 533.5H543M546 533.5H549M552 533.5H555M558 533.5H561M564 533.5H567M570 533.5H573M576 533.5H579M582 533.5H585M588 533.5H591M594 533.5H597M600 533.5H603M606 533.5H609M612 533.5H615M618 533.5H621M624 533.5H627M630 533.5H633M636 533.5H639M642 533.5H645M648 533.5H651M654 533.5H657M660 533.5H663M666 533.5H669M672 533.5H675M678 533.5H681M684 533.5H687M690 533.5H693M696 533.5H699M702 533.5H705M708 533.5H711M714 533.5H717M720 533.5H723M726 533.5H729M732 533.5H735M738 533.5H741M744 533.5H747M750 533.5H753M756 533.5H759M762 533.5H765M768 533.5H771M774 533.5H777M780 533.5H783M786 533.5H789M792 533.5H795M798 533.5H801M804 533.5H807M810 533.5H813M816 533.5H819M822 533.5H825M828 533.5H831M834 533.5H837M840 533.5H843M846 533.5H849M852 533.5H855M858 533.5H861M864 533.5H867M870 533.5H873M876 533.5H879M882 533.5H885M888 533.5H891M894 533.5H897M900 533.5H903M906 533.5H909M912 533.5H915M918 533.5H921M924 533.5H927M930 533.5H933M936 533.5H939M942 533.5H945M948 533.5H951M954 533.5H957M960 533.5H963M966 533.5H969M972 533.5H975M978 533.5H981M984 533.5H987M990 533.5H993M996 533.5H999M1002 533.5H1005M1008 533.5H1011M1014 533.5H1017M1020 533.5H1023M1026 533.5H1029M1032 533.5H1035M1038 533.5H1041M1044 533.5H1047M1050 533.5H1053M1056 533.5H1059M1062 533.5H1065M1068 533.5H1071M1074 533.5H1077M1080 533.5H1083M1086 533.5H1089M1092 533.5H1095M1098 533.5H1101M1104 533.5H1107M1110 533.5H1113M1116 533.5H1119M1122 533.5H1125M1128 533.5H1131M1134 533.5H1137M1140 533.5H1143M1146 533.5H1149M1152 533.5H1155M1158 533.5H1161M1164 533.5H1167M1170 533.5H1173M1176 533.5H1179M1182 533.5H1185M1188 533.5H1191M1194 533.5H1197M1200 533.5H1203M1206 533.5H1209M1212 533.5H1215M1218 533.5H1221M1224 533.5H1227M1230 533.5H1233M1236 533.5H1239M1242 533.5H1245M1248 533.5H1251M1254 533.5H1257M1260 533.5H1263M1266 533.5H1269M1272 533.5H1275M1278 533.5H1281M1284 533.5H1287M1290 533.5H1293M1296 533.5H1299M1302 533.5H1305M1308 533.5H1311M1314 533.5H1317M1320 533.5H1323M1326 533.5H1329M1332 533.5H1335M1338 533.5H1341M1344 533.5H1347M1350 533.5H1353M1356 533.5H1359M1362 533.5H1365M1368 533.5H1371M1374 533.5H1377M1380 533.5H1383M1386 533.5H1389M1392 533.5H1395M1398 533.5H1401M1404 533.5H1407M1410 533.5H1413M1416 533.5H1419M1422 533.5H1425M1428 533.5H1431M1434 533.5H1437M1440 533.5H1443M1446 533.5H1449M1452 533.5H1455M1458 533.5H1461M1464 533.5H1467M1470 533.5H1473M1476 533.5H1479M1482 533.5H1485M1488 533.5H1491M1494 533.5H1497M1500 533.5H1503M1506 533.5H1509M1512 533.5H1515M1518 533.5H1521M6 598.5H9M12 598.5H15M18 598.5H21M24 598.5H27M30 598.5H33M36 598.5H39M42 598.5H45M48 598.5H51M54 598.5H57M60 598.5H63M66 598.5H69M72 598.5H75M78 598.5H81M84 598.5H87M90 598.5H93M96 598.5H99M102 598.5H105M108 598.5H111M114 598.5H117M120 598.5H123M126 598.5H129M132 598.5H135M138 598.5H141M144 598.5H147M150 598.5H153M156 598.5H159M162 598.5H165M168 598.5H171M174 598.5H177M180 598.5H183M186 598.5H189M192 598.5H195M198 598.5H201M204 598.5H207M210 598.5H213M216 598.5H219M222 598.5H225M228 598.5H231M234 598.5H237M240 598.5H243M246 598.5H249M252 598.5H255M258 598.5H261M264 598.5H267M270 598.5H273M276 598.5H279M282 598.5H285M288 598.5H291M294 598.5H297M300 598.5H303M306 598.5H309M312 598.5H315M318 598.5H321M324 598.5H327M330 598.5H333M336 598.5H339M342 598.5H345M348 598.5H351M354 598.5H357M360 598.5H363M366 598.5H369M372 598.5H375M378 598.5H381M384 598.5H387M390 598.5H393M396 598.5H399M402 598.5H405M408 598.5H411M414 598.5H417M420 598.5H423M426 598.5H429M432 598.5H435M438 598.5H441M444 598.5H447M450 598.5H453M456 598.5H459M462 598.5H465M468 598.5H471M474 598.5H477M480 598.5H483M486 598.5H489M492 598.5H495M498 598.5H501M504 598.5H507M510 598.5H513M516 598.5H519M522 598.5H525M528 598.5H531M534 598.5H537M540 598.5H543M546 598.5H549M552 598.5H555M558 598.5H561M564 598.5H567M570 598.5H573M576 598.5H579M582 598.5H585M588 598.5H591M594 598.5H597M600 598.5H603M606 598.5H609M612 598.5H615M618 598.5H621M624 598.5H627M630 598.5H633M636 598.5H639M642 598.5H645M648 598.5H651M654 598.5H657M660 598.5H663M666 598.5H669M672 598.5H675M678 598.5H681M684 598.5H687M690 598.5H693M696 598.5H699M702 598.5H705M708 598.5H711M714 598.5H717M720 598.5H723M726 598.5H729M732 598.5H735M738 598.5H741M744 598.5H747M750 598.5H753M756 598.5H759M762 598.5H765M768 598.5H771M774 598.5H777M780 598.5H783M786 598.5H789M792 598.5H795M798 598.5H801M804 598.5H807M810 598.5H813M816 598.5H819M822 598.5H825M828 598.5H831M834 598.5H837M840 598.5H843M846 598.5H849M852 598.5H855M858 598.5H861M864 598.5H867M870 598.5H873M876 598.5H879M882 598.5H885M888 598.5H891M894 598.5H897M900 598.5H903M906 598.5H909M912 598.5H915M918 598.5H921M924 598.5H927M930 598.5H933M936 598.5H939M942 598.5H945M948 598.5H951M954 598.5H957M960 598.5H963M966 598.5H969M972 598.5H975M978 598.5H981M984 598.5H987M990 598.5H993M996 598.5H999M1002 598.5H1005M1008 598.5H1011M1014 598.5H1017M1020 598.5H1023M1026 598.5H1029M1032 598.5H1035M1038 598.5H1041M1044 598.5H1047M1050 598.5H1053M1056 598.5H1059M1062 598.5H1065M1068 598.5H1071M1074 598.5H1077M1080 598.5H1083M1086 598.5H1089M1092 598.5H1095M1098 598.5H1101M1104 598.5H1107M1110 598.5H1113M1116 598.5H1119M1122 598.5H1125M1128 598.5H1131M1134 598.5H1137M1140 598.5H1143M1146 598.5H1149M1152 598.5H1155M1158 598.5H1161M1164 598.5H1167M1170 598.5H1173M1176 598.5H1179M1182 598.5H1185M1188 598.5H1191M1194 598.5H1197M1200 598.5H1203M1206 598.5H1209M1212 598.5H1215M1218 598.5H1221M1224 598.5H1227M1230 598.5H1233M1236 598.5H1239M1242 598.5H1245M1248 598.5H1251M1254 598.5H1257M1260 598.5H1263M1266 598.5H1269M1272 598.5H1275M1278 598.5H1281M1284 598.5H1287M1290 598.5H1293M1296 598.5H1299M1302 598.5H1305M1308 598.5H1311M1314 598.5H1317M1320 598.5H1323M1326 598.5H1329M1332 598.5H1335M1338 598.5H1341M1344 598.5H1347M1350 598.5H1353M1356 598.5H1359M1362 598.5H1365M1368 598.5H1371M1374 598.5H1377M1380 598.5H1383M1386 598.5H1389M1392 598.5H1395M1398 598.5H1401M1404 598.5H1407M1410 598.5H1413M1416 598.5H1419M1422 598.5H1425M1428 598.5H1431M1434 598.5H1437M1440 598.5H1443M1446 598.5H1449M1452 598.5H1455M1458 598.5H1461M1464 598.5H1467M1470 598.5H1473M1476 598.5H1479M1482 598.5H1485M1488 598.5H1491M1494 598.5H1497M1500 598.5H1503M1506 598.5H1509M1512 598.5H1515M1518 598.5H1521M69.5 5V7M69.5 10V13M69.5 16V19M69.5 22V25M69.5 28V31M69.5 34V37M69.5 40V43M69.5 46V49M69.5 52V55M69.5 58V61M69.5 64V67M69.5 70V73M69.5 76V79M69.5 82V85M69.5 88V91M69.5 94V97M69.5 100V103M69.5 106V109M69.5 112V115M69.5 118V121M69.5 124V127M69.5 130V133M69.5 136V139M69.5 142V145M69.5 148V151M69.5 154V157M69.5 160V163M69.5 166V169M69.5 172V175M69.5 178V181M69.5 184V187M69.5 190V193M69.5 196V199M69.5 202V205M69.5 208V211M69.5 214V217M69.5 220V223M69.5 226V229M69.5 232V235M69.5 238V241M69.5 244V247M69.5 250V253M69.5 256V259M69.5 262V265M69.5 268V271M69.5 274V277M69.5 280V283M69.5 286V289M69.5 292V295M69.5 298V301M69.5 304V307M69.5 310V313M69.5 316V319M69.5 322V325M69.5 328V331M69.5 334V337M69.5 340V343M69.5 346V349M69.5 352V355M69.5 358V361M69.5 364V367M69.5 370V373M69.5 376V379M69.5 382V385M69.5 388V391M69.5 394V397M69.5 400V403M69.5 406V409M69.5 412V415M69.5 418V421M69.5 424V427M69.5 430V433M69.5 436V439M69.5 442V445M69.5 448V451M69.5 454V457M69.5 460V463M69.5 466V469M69.5 472V475M69.5 478V481M69.5 484V487M69.5 490V493M69.5 496V499M69.5 502V505M69.5 508V511M69.5 514V517M69.5 520V523M69.5 526V529M69.5 532V535M69.5 538V541M69.5 544V547M69.5 550V553M69.5 556V559M69.5 562V565M69.5 568V571M69.5 574V577M69.5 580V583M69.5 586V589M69.5 592V595M69.5 598V601M69.5 604V607M69.5 610V613M69.5 616V619M69.5 622V625M69.5 628V631M133.5 5V7M133.5 10V13M133.5 16V19M133.5 22V25M133.5 28V31M133.5 34V37M133.5 40V43M133.5 46V49M133.5 52V55M133.5 58V61M133.5 64V67M133.5 70V73M133.5 76V79M133.5 82V85M133.5 88V91M133.5 94V97M133.5 100V103M133.5 106V109M133.5 112V115M133.5 118V121M133.5 124V127M133.5 130V133M133.5 136V139M133.5 142V145M133.5 148V151M133.5 154V157M133.5 160V163M133.5 166V169M133.5 172V175M133.5 178V181M133.5 184V187M133.5 190V193M133.5 196V199M133.5 202V205M133.5 208V211M133.5 214V217M133.5 220V223M133.5 226V229M133.5 232V235M133.5 238V241M133.5 244V247M133.5 250V253M133.5 256V259M133.5 262V265M133.5 268V271M133.5 274V277M133.5 280V283M133.5 286V289M133.5 292V295M133.5 298V301M133.5 304V307M133.5 310V313M133.5 316V319M133.5 322V325M133.5 328V331M133.5 334V337M133.5 340V343M133.5 346V349M133.5 352V355M133.5 358V361M133.5 364V367M133.5 370V373M133.5 376V379M133.5 382V385M133.5 388V391M133.5 394V397M133.5 400V403M133.5 406V409M133.5 412V415M133.5 418V421M133.5 424V427M133.5 430V433M133.5 436V439M133.5 442V445M133.5 448V451M133.5 454V457M133.5 460V463M133.5 466V469M133.5 472V475M133.5 478V481M133.5 484V487M133.5 490V493M133.5 496V499M133.5 502V505M133.5 508V511M133.5 514V517M133.5 520V523M133.5 526V529M133.5 532V535M133.5 538V541M133.5 544V547M133.5 550V553M133.5 556V559M133.5 562V565M133.5 568V571M133.5 574V577M133.5 580V583M133.5 586V589M133.5 592V595M133.5 598V601M133.5 604V607M133.5 610V613M133.5 616V619M133.5 622V625M133.5 628V631M197.5 5V7M197.5 10V13M197.5 16V19M197.5 22V25M197.5 28V31M197.5 34V37M197.5 40V43M197.5 46V49M197.5 52V55M197.5 58V61M197.5 64V67M197.5 70V73M197.5 76V79M197.5 82V85M197.5 88V91M197.5 94V97M197.5 100V103M197.5 106V109M197.5 112V115M197.5 118V121M197.5 124V127M197.5 130V133M197.5 136V139M197.5 142V145M197.5 148V151M197.5 154V157M197.5 160V163M197.5 166V169M197.5 172V175M197.5 178V181M197.5 184V187M197.5 190V193M197.5 196V199M197.5 202V205M197.5 208V211M197.5 214V217M197.5 220V223M197.5 226V229M197.5 232V235M197.5 238V241M197.5 244V247M197.5 250V253M197.5 256V259M197.5 262V265M197.5 268V271M197.5 274V277M197.5 280V283M197.5 286V289M197.5 292V295M197.5 298V301M197.5 304V307M197.5 310V313M197.5 316V319M197.5 322V325M197.5 328V331M197.5 334V337M197.5 340V343M197.5 346V349M197.5 352V355M197.5 358V361M197.5 364V367M197.5 370V373M197.5 376V379M197.5 382V385M197.5 388V391M197.5 394V397M197.5 400V403M197.5 406V409M197.5 412V415M197.5 418V421M197.5 424V427M197.5 430V433M197.5 436V439M197.5 442V445M197.5 448V451M197.5 454V457M197.5 460V463M197.5 466V469M197.5 472V475M197.5 478V481M197.5 484V487M197.5 490V493M197.5 496V499M197.5 502V505M197.5 508V511M197.5 514V517M197.5 520V523M197.5 526V529M197.5 532V535M197.5 538V541M197.5 544V547M197.5 550V553M197.5 556V559M197.5 562V565M197.5 568V571M197.5 574V577M197.5 580V583M197.5 586V589M197.5 592V595M197.5 598V601M197.5 604V607M197.5 610V613M197.5 616V619M197.5 622V625M197.5 628V631M261.5 5V7M261.5 10V13M261.5 16V19M261.5 22V25M261.5 28V31M261.5 34V37M261.5 40V43M261.5 46V49M261.5 52V55M261.5 58V61M261.5 64V67M261.5 70V73M261.5 76V79M261.5 82V85M261.5 88V91M261.5 94V97M261.5 100V103M261.5 106V109M261.5 112V115M261.5 118V121M261.5 124V127M261.5 130V133M261.5 136V139M261.5 142V145M261.5 148V151M261.5 154V157M261.5 160V163M261.5 166V169M261.5 172V175M261.5 178V181M261.5 184V187M261.5 190V193M261.5 196V199M261.5 202V205M261.5 208V211M261.5 214V217M261.5 220V223M261.5 226V229M261.5 232V235M261.5 238V241M261.5 244V247M261.5 250V253M261.5 256V259M261.5 262V265M261.5 268V271M261.5 274V277M261.5 280V283M261.5 286V289M261.5 292V295M261.5 298V301M261.5 304V307M261.5 310V313M261.5 316V319M261.5 322V325M261.5 328V331M261.5 334V337M261.5 340V343M261.5 346V349M261.5 352V355M261.5 358V361M261.5 364V367M261.5 370V373M261.5 376V379M261.5 382V385M261.5 388V391M261.5 394V397M261.5 400V403M261.5 406V409M261.5 412V415M261.5 418V421M261.5 424V427M261.5 430V433M261.5 436V439M261.5 442V445M261.5 448V451M261.5 454V457M261.5 460V463M261.5 466V469M261.5 472V475M261.5 478V481M261.5 484V487M261.5 490V493M261.5 496V499M261.5 502V505M261.5 508V511M261.5 514V517M261.5 520V523M261.5 526V529M261.5 532V535M261.5 538V541M261.5 544V547M261.5 550V553M261.5 556V559M261.5 562V565M261.5 568V571M261.5 574V577M261.5 580V583M261.5 586V589M261.5 592V595M261.5 598V601M261.5 604V607M261.5 610V613M261.5 616V619M261.5 622V625M261.5 628V631M325.5 5V7M325.5 10V13M325.5 16V19M325.5 22V25M325.5 28V31M325.5 34V37M325.5 40V43M325.5 46V49M325.5 52V55M325.5 58V61M325.5 64V67M325.5 70V73M325.5 76V79M325.5 82V85M325.5 88V91M325.5 94V97M325.5 100V103M325.5 106V109M325.5 112V115M325.5 118V121M325.5 124V127M325.5 130V133M325.5 136V139M325.5 142V145M325.5 148V151M325.5 154V157M325.5 160V163M325.5 166V169M325.5 172V175M325.5 178V181M325.5 184V187M325.5 190V193M325.5 196V199M325.5 202V205M325.5 208V211M325.5 214V217M325.5 220V223M325.5 226V229M325.5 232V235M325.5 238V241M325.5 244V247M325.5 250V253M325.5 256V259M325.5 262V265M325.5 268V271M325.5 274V277M325.5 280V283M325.5 286V289M325.5 292V295M325.5 298V301M325.5 304V307M325.5 310V313M325.5 316V319M325.5 322V325M325.5 328V331M325.5 334V337M325.5 340V343M325.5 346V349M325.5 352V355M325.5 358V361M325.5 364V367M325.5 370V373M325.5 376V379M325.5 382V385M325.5 388V391M325.5 394V397M325.5 400V403M325.5 406V409M325.5 412V415M325.5 418V421M325.5 424V427M325.5 430V433M325.5 436V439M325.5 442V445M325.5 448V451M325.5 454V457M325.5 460V463M325.5 466V469M325.5 472V475M325.5 478V481M325.5 484V487M325.5 490V493M325.5 496V499M325.5 502V505M325.5 508V511M325.5 514V517M325.5 520V523M325.5 526V529M325.5 532V535M325.5 538V541M325.5 544V547M325.5 550V553M325.5 556V559M325.5 562V565M325.5 568V571M325.5 574V577M325.5 580V583M325.5 586V589M325.5 592V595M325.5 598V601M325.5 604V607M325.5 610V613M325.5 616V619M325.5 622V625M325.5 628V631M389.5 5V7M389.5 10V13M389.5 16V19M389.5 22V25M389.5 28V31M389.5 34V37M389.5 40V43M389.5 46V49M389.5 52V55M389.5 58V61M389.5 64V67M389.5 70V73M389.5 76V79M389.5 82V85M389.5 88V91M389.5 94V97M389.5 100V103M389.5 106V109M389.5 112V115M389.5 118V121M389.5 124V127M389.5 130V133M389.5 136V139M389.5 142V145M389.5 148V151M389.5 154V157M389.5 160V163M389.5 166V169M389.5 172V175M389.5 178V181M389.5 184V187M389.5 190V193M389.5 196V199M389.5 202V205M389.5 208V211M389.5 214V217M389.5 220V223M389.5 226V229M389.5 232V235M389.5 238V241M389.5 244V247M389.5 250V253M389.5 256V259M389.5 262V265M389.5 268V271M389.5 274V277M389.5 280V283M389.5 286V289M389.5 292V295M389.5 298V301M389.5 304V307M389.5 310V313M389.5 316V319M389.5 322V325M389.5 328V331M389.5 334V337M389.5 340V343M389.5 346V349M389.5 352V355M389.5 358V361M389.5 364V367M389.5 370V373M389.5 376V379M389.5 382V385M389.5 388V391M389.5 394V397M389.5 400V403M389.5 406V409M389.5 412V415M389.5 418V421M389.5 424V427M389.5 430V433M389.5 436V439M389.5 442V445M389.5 448V451M389.5 454V457M389.5 460V463M389.5 466V469M389.5 472V475M389.5 478V481M389.5 484V487M389.5 490V493M389.5 496V499M389.5 502V505M389.5 508V511M389.5 514V517M389.5 520V523M389.5 526V529M389.5 532V535M389.5 538V541M389.5 544V547M389.5 550V553M389.5 556V559M389.5 562V565M389.5 568V571M389.5 574V577M389.5 580V583M389.5 586V589M389.5 592V595M389.5 598V601M389.5 604V607M389.5 610V613M389.5 616V619M389.5 622V625M389.5 628V631M453.5 5V7M453.5 10V13M453.5 16V19M453.5 22V25M453.5 28V31M453.5 34V37M453.5 40V43M453.5 46V49M453.5 52V55M453.5 58V61M453.5 64V67M453.5 70V73M453.5 76V79M453.5 82V85M453.5 88V91M453.5 94V97M453.5 100V103M453.5 106V109M453.5 112V115M453.5 118V121M453.5 124V127M453.5 130V133M453.5 136V139M453.5 142V145M453.5 148V151M453.5 154V157M453.5 160V163M453.5 166V169M453.5 172V175M453.5 178V181M453.5 184V187M453.5 190V193M453.5 196V199M453.5 202V205M453.5 208V211M453.5 214V217M453.5 220V223M453.5 226V229M453.5 232V235M453.5 238V241M453.5 244V247M453.5 250V253M453.5 256V259M453.5 262V265M453.5 268V271M453.5 274V277M453.5 280V283M453.5 286V289M453.5 292V295M453.5 298V301M453.5 304V307M453.5 310V313M453.5 316V319M453.5 322V325M453.5 328V331M453.5 334V337M453.5 340V343M453.5 346V349M453.5 352V355M453.5 358V361M453.5 364V367M453.5 370V373M453.5 376V379M453.5 382V385M453.5 388V391M453.5 394V397M453.5 400V403M453.5 406V409M453.5 412V415M453.5 418V421M453.5 424V427M453.5 430V433M453.5 436V439M453.5 442V445M453.5 448V451M453.5 454V457M453.5 460V463M453.5 466V469M453.5 472V475M453.5 478V481M453.5 484V487M453.5 490V493M453.5 496V499M453.5 502V505M453.5 508V511M453.5 514V517M453.5 520V523M453.5 526V529M453.5 532V535M453.5 538V541M453.5 544V547M453.5 550V553M453.5 556V559M453.5 562V565M453.5 568V571M453.5 574V577M453.5 580V583M453.5 586V589M453.5 592V595M453.5 598V601M453.5 604V607M453.5 610V613M453.5 616V619M453.5 622V625M453.5 628V631M517.5 5V7M517.5 10V13M517.5 16V19M517.5 22V25M517.5 28V31M517.5 34V37M517.5 40V43M517.5 46V49M517.5 52V55M517.5 58V61M517.5 64V67M517.5 70V73M517.5 76V79M517.5 82V85M517.5 88V91M517.5 94V97M517.5 100V103M517.5 106V109M517.5 112V115M517.5 118V121M517.5 124V127M517.5 130V133M517.5 136V139M517.5 142V145M517.5 148V151M517.5 154V157M517.5 160V163M517.5 166V169M517.5 172V175M517.5 178V181M517.5 184V187M517.5 190V193M517.5 196V199M517.5 202V205M517.5 208V211M517.5 214V217M517.5 220V223M517.5 226V229M517.5 232V235M517.5 238V241M517.5 244V247M517.5 250V253M517.5 256V259M517.5 262V265M517.5 268V271M517.5 274V277M517.5 280V283M517.5 286V289M517.5 292V295M517.5 298V301M517.5 304V307M517.5 310V313M517.5 316V319M517.5 322V325M517.5 328V331M517.5 334V337M517.5 340V343M517.5 346V349M517.5 352V355M517.5 358V361M517.5 364V367M517.5 370V373M517.5 376V379M517.5 382V385M517.5 388V391M517.5 394V397M517.5 400V403M517.5 406V409M517.5 412V415M517.5 418V421M517.5 424V427M517.5 430V433M517.5 436V439M517.5 442V445M517.5 448V451M517.5 454V457M517.5 460V463M517.5 466V469M517.5 472V475M517.5 478V481M517.5 484V487M517.5 490V493M517.5 496V499M517.5 502V505M517.5 508V511M517.5 514V517M517.5 520V523M517.5 526V529M517.5 532V535M517.5 538V541M517.5 544V547M517.5 550V553M517.5 556V559M517.5 562V565M517.5 568V571M517.5 574V577M517.5 580V583M517.5 586V589M517.5 592V595M517.5 598V601M517.5 604V607M517.5 610V613M517.5 616V619M517.5 622V625M517.5 628V631M581.5 5V7M581.5 10V13M581.5 16V19M581.5 22V25M581.5 28V31M581.5 34V37M581.5 40V43M581.5 46V49M581.5 52V55M581.5 58V61M581.5 64V67M581.5 70V73M581.5 76V79M581.5 82V85M581.5 88V91M581.5 94V97M581.5 100V103M581.5 106V109M581.5 112V115M581.5 118V121M581.5 124V127M581.5 130V133M581.5 136V139M581.5 142V145M581.5 148V151M581.5 154V157M581.5 160V163M581.5 166V169M581.5 172V175M581.5 178V181M581.5 184V187M581.5 190V193M581.5 196V199M581.5 202V205M581.5 208V211M581.5 214V217M581.5 220V223M581.5 226V229M581.5 232V235M581.5 238V241M581.5 244V247M581.5 250V253M581.5 256V259M581.5 262V265M581.5 268V271M581.5 274V277M581.5 280V283M581.5 286V289M581.5 292V295M581.5 298V301M581.5 304V307M581.5 310V313M581.5 316V319M581.5 322V325M581.5 328V331M581.5 334V337M581.5 340V343M581.5 346V349M581.5 352V355M581.5 358V361M581.5 364V367M581.5 370V373M581.5 376V379M581.5 382V385M581.5 388V391M581.5 394V397M581.5 400V403M581.5 406V409M581.5 412V415M581.5 418V421M581.5 424V427M581.5 430V433M581.5 436V439M581.5 442V445M581.5 448V451M581.5 454V457M581.5 460V463M581.5 466V469M581.5 472V475M581.5 478V481M581.5 484V487M581.5 490V493M581.5 496V499M581.5 502V505M581.5 508V511M581.5 514V517M581.5 520V523M581.5 526V529M581.5 532V535M581.5 538V541M581.5 544V547M581.5 550V553M581.5 556V559M581.5 562V565M581.5 568V571M581.5 574V577M581.5 580V583M581.5 586V589M581.5 592V595M581.5 598V601M581.5 604V607M581.5 610V613M581.5 616V619M581.5 622V625M581.5 628V631M645.5 5V7M645.5 10V13M645.5 16V19M645.5 22V25M645.5 28V31M645.5 34V37M645.5 40V43M645.5 46V49M645.5 52V55M645.5 58V61M645.5 64V67M645.5 70V73M645.5 76V79M645.5 82V85M645.5 88V91M645.5 94V97M645.5 100V103M645.5 106V109M645.5 112V115M645.5 118V121M645.5 124V127M645.5 130V133M645.5 136V139M645.5 142V145M645.5 148V151M645.5 154V157M645.5 160V163M645.5 166V169M645.5 172V175M645.5 178V181M645.5 184V187M645.5 190V193M645.5 196V199M645.5 202V205M645.5 208V211M645.5 214V217M645.5 220V223M645.5 226V229M645.5 232V235M645.5 238V241M645.5 244V247M645.5 250V253M645.5 256V259M645.5 262V265M645.5 268V271M645.5 274V277M645.5 280V283M645.5 286V289M645.5 292V295M645.5 298V301M645.5 304V307M645.5 310V313M645.5 316V319M645.5 322V325M645.5 328V331M645.5 334V337M645.5 340V343M645.5 346V349M645.5 352V355M645.5 358V361M645.5 364V367M645.5 370V373M645.5 376V379M645.5 382V385M645.5 388V391M645.5 394V397M645.5 400V403M645.5 406V409M645.5 412V415M645.5 418V421M645.5 424V427M645.5 430V433M645.5 436V439M645.5 442V445M645.5 448V451M645.5 454V457M645.5 460V463M645.5 466V469M645.5 472V475M645.5 478V481M645.5 484V487M645.5 490V493M645.5 496V499M645.5 502V505M645.5 508V511M645.5 514V517M645.5 520V523M645.5 526V529M645.5 532V535M645.5 538V541M645.5 544V547M645.5 550V553M645.5 556V559M645.5 562V565M645.5 568V571M645.5 574V577M645.5 580V583M645.5 586V589M645.5 592V595M645.5 598V601M645.5 604V607M645.5 610V613M645.5 616V619M645.5 622V625M645.5 628V631M709.5 5V7M709.5 10V13M709.5 16V19M709.5 22V25M709.5 28V31M709.5 34V37M709.5 40V43M709.5 46V49M709.5 52V55M709.5 58V61M709.5 64V67M709.5 70V73M709.5 76V79M709.5 82V85M709.5 88V91M709.5 94V97M709.5 100V103M709.5 106V109M709.5 112V115M709.5 118V121M709.5 124V127M709.5 130V133M709.5 136V139M709.5 142V145M709.5 148V151M709.5 154V157M709.5 160V163M709.5 166V169M709.5 172V175M709.5 178V181M709.5 184V187M709.5 190V193M709.5 196V199M709.5 202V205M709.5 208V211M709.5 214V217M709.5 220V223M709.5 226V229M709.5 232V235M709.5 238V241M709.5 244V247M709.5 250V253M709.5 256V259M709.5 262V265M709.5 268V271M709.5 274V277M709.5 280V283M709.5 286V289M709.5 292V295M709.5 298V301M709.5 304V307M709.5 310V313M709.5 316V319M709.5 322V325M709.5 328V331M709.5 334V337M709.5 340V343M709.5 346V349M709.5 352V355M709.5 358V361M709.5 364V367M709.5 370V373M709.5 376V379M709.5 382V385M709.5 388V391M709.5 394V397M709.5 400V403M709.5 406V409M709.5 412V415M709.5 418V421M709.5 424V427M709.5 430V433M709.5 436V439M709.5 442V445M709.5 448V451M709.5 454V457M709.5 460V463M709.5 466V469M709.5 472V475M709.5 478V481M709.5 484V487M709.5 490V493M709.5 496V499M709.5 502V505M709.5 508V511M709.5 514V517M709.5 520V523M709.5 526V529M709.5 532V535M709.5 538V541M709.5 544V547M709.5 550V553M709.5 556V559M709.5 562V565M709.5 568V571M709.5 574V577M709.5 580V583M709.5 586V589M709.5 592V595M709.5 598V601M709.5 604V607M709.5 610V613M709.5 616V619M709.5 622V625M709.5 628V631M773.5 5V7M773.5 10V13M773.5 16V19M773.5 22V25M773.5 28V31M773.5 34V37M773.5 40V43M773.5 46V49M773.5 52V55M773.5 58V61M773.5 64V67M773.5 70V73M773.5 76V79M773.5 82V85M773.5 88V91M773.5 94V97M773.5 100V103M773.5 106V109M773.5 112V115M773.5 118V121M773.5 124V127M773.5 130V133M773.5 136V139M773.5 142V145M773.5 148V151M773.5 154V157M773.5 160V163M773.5 166V169M773.5 172V175M773.5 178V181M773.5 184V187M773.5 190V193M773.5 196V199M773.5 202V205M773.5 208V211M773.5 214V217M773.5 220V223M773.5 226V229M773.5 232V235M773.5 238V241M773.5 244V247M773.5 250V253M773.5 256V259M773.5 262V265M773.5 268V271M773.5 274V277M773.5 280V283M773.5 286V289M773.5 292V295M773.5 298V301M773.5 304V307M773.5 310V313M773.5 316V319M773.5 322V325M773.5 328V331M773.5 334V337M773.5 340V343M773.5 346V349M773.5 352V355M773.5 358V361M773.5 364V367M773.5 370V373M773.5 376V379M773.5 382V385M773.5 388V391M773.5 394V397M773.5 400V403M773.5 406V409M773.5 412V415M773.5 418V421M773.5 424V427M773.5 430V433M773.5 436V439M773.5 442V445M773.5 448V451M773.5 454V457M773.5 460V463M773.5 466V469M773.5 472V475M773.5 478V481M773.5 484V487M773.5 490V493M773.5 496V499M773.5 502V505M773.5 508V511M773.5 514V517M773.5 520V523M773.5 526V529M773.5 532V535M773.5 538V541M773.5 544V547M773.5 550V553M773.5 556V559M773.5 562V565M773.5 568V571M773.5 574V577M773.5 580V583M773.5 586V589M773.5 592V595M773.5 598V601M773.5 604V607M773.5 610V613M773.5 616V619M773.5 622V625M773.5 628V631M837.5 5V7M837.5 10V13M837.5 16V19M837.5 22V25M837.5 28V31M837.5 34V37M837.5 40V43M837.5 46V49M837.5 52V55M837.5 58V61M837.5 64V67M837.5 70V73M837.5 76V79M837.5 82V85M837.5 88V91M837.5 94V97M837.5 100V103M837.5 106V109M837.5 112V115M837.5 118V121M837.5 124V127M837.5 130V133M837.5 136V139M837.5 142V145M837.5 148V151M837.5 154V157M837.5 160V163M837.5 166V169M837.5 172V175M837.5 178V181M837.5 184V187M837.5 190V193M837.5 196V199M837.5 202V205M837.5 208V211M837.5 214V217M837.5 220V223M837.5 226V229M837.5 232V235M837.5 238V241M837.5 244V247M837.5 250V253M837.5 256V259M837.5 262V265M837.5 268V271M837.5 274V277M837.5 280V283M837.5 286V289M837.5 292V295M837.5 298V301M837.5 304V307M837.5 310V313M837.5 316V319M837.5 322V325M837.5 328V331M837.5 334V337M837.5 340V343M837.5 346V349M837.5 352V355M837.5 358V361M837.5 364V367M837.5 370V373M837.5 376V379M837.5 382V385M837.5 388V391M837.5 394V397M837.5 400V403M837.5 406V409M837.5 412V415M837.5 418V421M837.5 424V427M837.5 430V433M837.5 436V439M837.5 442V445M837.5 448V451M837.5 454V457M837.5 460V463M837.5 466V469M837.5 472V475M837.5 478V481M837.5 484V487M837.5 490V493M837.5 496V499M837.5 502V505M837.5 508V511M837.5 514V517M837.5 520V523M837.5 526V529M837.5 532V535M837.5 538V541M837.5 544V547M837.5 550V553M837.5 556V559M837.5 562V565M837.5 568V571M837.5 574V577M837.5 580V583M837.5 586V589M837.5 592V595M837.5 598V601M837.5 604V607M837.5 610V613M837.5 616V619M837.5 622V625M837.5 628V631M901.5 5V7M901.5 10V13M901.5 16V19M901.5 22V25M901.5 28V31M901.5 34V37M901.5 40V43M901.5 46V49M901.5 52V55M901.5 58V61M901.5 64V67M901.5 70V73M901.5 76V79M901.5 82V85M901.5 88V91M901.5 94V97M901.5 100V103M901.5 106V109M901.5 112V115M901.5 118V121M901.5 124V127M901.5 130V133M901.5 136V139M901.5 142V145M901.5 148V151M901.5 154V157M901.5 160V163M901.5 166V169M901.5 172V175M901.5 178V181M901.5 184V187M901.5 190V193M901.5 196V199M901.5 202V205M901.5 208V211M901.5 214V217M901.5 220V223M901.5 226V229M901.5 232V235M901.5 238V241M901.5 244V247M901.5 250V253M901.5 256V259M901.5 262V265M901.5 268V271M901.5 274V277M901.5 280V283M901.5 286V289M901.5 292V295M901.5 298V301M901.5 304V307M901.5 310V313M901.5 316V319M901.5 322V325M901.5 328V331M901.5 334V337M901.5 340V343M901.5 346V349M901.5 352V355M901.5 358V361M901.5 364V367M901.5 370V373M901.5 376V379M901.5 382V385M901.5 388V391M901.5 394V397M901.5 400V403M901.5 406V409M901.5 412V415M901.5 418V421M901.5 424V427M901.5 430V433M901.5 436V439M901.5 442V445M901.5 448V451M901.5 454V457M901.5 460V463M901.5 466V469M901.5 472V475M901.5 478V481M901.5 484V487M901.5 490V493M901.5 496V499M901.5 502V505M901.5 508V511M901.5 514V517M901.5 520V523M901.5 526V529M901.5 532V535M901.5 538V541M901.5 544V547M901.5 550V553M901.5 556V559M901.5 562V565M901.5 568V571M901.5 574V577M901.5 580V583M901.5 586V589M901.5 592V595M901.5 598V601M901.5 604V607M901.5 610V613M901.5 616V619M901.5 622V625M901.5 628V631M965.5 5V7M965.5 10V13M965.5 16V19M965.5 22V25M965.5 28V31M965.5 34V37M965.5 40V43M965.5 46V49M965.5 52V55M965.5 58V61M965.5 64V67M965.5 70V73M965.5 76V79M965.5 82V85M965.5 88V91M965.5 94V97M965.5 100V103M965.5 106V109M965.5 112V115M965.5 118V121M965.5 124V127M965.5 130V133M965.5 136V139M965.5 142V145M965.5 148V151M965.5 154V157M965.5 160V163M965.5 166V169M965.5 172V175M965.5 178V181M965.5 184V187M965.5 190V193M965.5 196V199M965.5 202V205M965.5 208V211M965.5 214V217M965.5 220V223M965.5 226V229M965.5 232V235M965.5 238V241M965.5 244V247M965.5 250V253M965.5 256V259M965.5 262V265M965.5 268V271M965.5 274V277M965.5 280V283M965.5 286V289M965.5 292V295M965.5 298V301M965.5 304V307M965.5 310V313M965.5 316V319M965.5 322V325M965.5 328V331M965.5 334V337M965.5 340V343M965.5 346V349M965.5 352V355M965.5 358V361M965.5 364V367M965.5 370V373M965.5 376V379M965.5 382V385M965.5 388V391M965.5 394V397M965.5 400V403M965.5 406V409M965.5 412V415M965.5 418V421M965.5 424V427M965.5 430V433M965.5 436V439M965.5 442V445M965.5 448V451M965.5 454V457M965.5 460V463M965.5 466V469M965.5 472V475M965.5 478V481M965.5 484V487M965.5 490V493M965.5 496V499M965.5 502V505M965.5 508V511M965.5 514V517M965.5 520V523M965.5 526V529M965.5 532V535M965.5 538V541M965.5 544V547M965.5 550V553M965.5 556V559M965.5 562V565M965.5 568V571M965.5 574V577M965.5 580V583M965.5 586V589M965.5 592V595M965.5 598V601M965.5 604V607M965.5 610V613M965.5 616V619M965.5 622V625M965.5 628V631M1029.5 5V7M1029.5 10V13M1029.5 16V19M1029.5 22V25M1029.5 28V31M1029.5 34V37M1029.5 40V43M1029.5 46V49M1029.5 52V55M1029.5 58V61M1029.5 64V67M1029.5 70V73M1029.5 76V79M1029.5 82V85M1029.5 88V91M1029.5 94V97M1029.5 100V103M1029.5 106V109M1029.5 112V115M1029.5 118V121M1029.5 124V127M1029.5 130V133M1029.5 136V139M1029.5 142V145M1029.5 148V151M1029.5 154V157M1029.5 160V163M1029.5 166V169M1029.5 172V175M1029.5 178V181M1029.5 184V187M1029.5 190V193M1029.5 196V199M1029.5 202V205M1029.5 208V211M1029.5 214V217M1029.5 220V223M1029.5 226V229M1029.5 232V235M1029.5 238V241M1029.5 244V247M1029.5 250V253M1029.5 256V259M1029.5 262V265M1029.5 268V271M1029.5 274V277M1029.5 280V283M1029.5 286V289M1029.5 292V295M1029.5 298V301M1029.5 304V307M1029.5 310V313M1029.5 316V319M1029.5 322V325M1029.5 328V331M1029.5 334V337M1029.5 340V343M1029.5 346V349M1029.5 352V355M1029.5 358V361M1029.5 364V367M1029.5 370V373M1029.5 376V379M1029.5 382V385M1029.5 388V391M1029.5 394V397M1029.5 400V403M1029.5 406V409M1029.5 412V415M1029.5 418V421M1029.5 424V427M1029.5 430V433M1029.5 436V439M1029.5 442V445M1029.5 448V451M1029.5 454V457M1029.5 460V463M1029.5 466V469M1029.5 472V475M1029.5 478V481M1029.5 484V487M1029.5 490V493M1029.5 496V499M1029.5 502V505M1029.5 508V511M1029.5 514V517M1029.5 520V523M1029.5 526V529M1029.5 532V535M1029.5 538V541M1029.5 544V547M1029.5 550V553M1029.5 556V559M1029.5 562V565M1029.5 568V571M1029.5 574V577M1029.5 580V583M1029.5 586V589M1029.5 592V595M1029.5 598V601M1029.5 604V607M1029.5 610V613M1029.5 616V619M1029.5 622V625M1029.5 628V631M1093.5 5V7M1093.5 10V13M1093.5 16V19M1093.5 22V25M1093.5 28V31M1093.5 34V37M1093.5 40V43M1093.5 46V49M1093.5 52V55M1093.5 58V61M1093.5 64V67M1093.5 70V73M1093.5 76V79M1093.5 82V85M1093.5 88V91M1093.5 94V97M1093.5 100V103M1093.5 106V109M1093.5 112V115M1093.5 118V121M1093.5 124V127M1093.5 130V133M1093.5 136V139M1093.5 142V145M1093.5 148V151M1093.5 154V157M1093.5 160V163M1093.5 166V169M1093.5 172V175M1093.5 178V181M1093.5 184V187M1093.5 190V193M1093.5 196V199M1093.5 202V205M1093.5 208V211M1093.5 214V217M1093.5 220V223M1093.5 226V229M1093.5 232V235M1093.5 238V241M1093.5 244V247M1093.5 250V253M1093.5 256V259M1093.5 262V265M1093.5 268V271M1093.5 274V277M1093.5 280V283M1093.5 286V289M1093.5 292V295M1093.5 298V301M1093.5 304V307M1093.5 310V313M1093.5 316V319M1093.5 322V325M1093.5 328V331M1093.5 334V337M1093.5 340V343M1093.5 346V349M1093.5 352V355M1093.5 358V361M1093.5 364V367M1093.5 370V373M1093.5 376V379M1093.5 382V385M1093.5 388V391M1093.5 394V397M1093.5 400V403M1093.5 406V409M1093.5 412V415M1093.5 418V421M1093.5 424V427M1093.5 430V433M1093.5 436V439M1093.5 442V445M1093.5 448V451M1093.5 454V457M1093.5 460V463M1093.5 466V469M1093.5 472V475M1093.5 478V481M1093.5 484V487M1093.5 490V493M1093.5 496V499M1093.5 502V505M1093.5 508V511M1093.5 514V517M1093.5 520V523M1093.5 526V529M1093.5 532V535M1093.5 538V541M1093.5 544V547M1093.5 550V553M1093.5 556V559M1093.5 562V565M1093.5 568V571M1093.5 574V577M1093.5 580V583M1093.5 586V589M1093.5 592V595M1093.5 598V601M1093.5 604V607M1093.5 610V613M1093.5 616V619M1093.5 622V625M1093.5 628V631M1157.5 5V7M1157.5 10V13M1157.5 16V19M1157.5 22V25M1157.5 28V31M1157.5 34V37M1157.5 40V43M1157.5 46V49M1157.5 52V55M1157.5 58V61M1157.5 64V67M1157.5 70V73M1157.5 76V79M1157.5 82V85M1157.5 88V91M1157.5 94V97M1157.5 100V103M1157.5 106V109M1157.5 112V115M1157.5 118V121M1157.5 124V127M1157.5 130V133M1157.5 136V139M1157.5 142V145M1157.5 148V151M1157.5 154V157M1157.5 160V163M1157.5 166V169M1157.5 172V175M1157.5 178V181M1157.5 184V187M1157.5 190V193M1157.5 196V199M1157.5 202V205M1157.5 208V211M1157.5 214V217M1157.5 220V223M1157.5 226V229M1157.5 232V235M1157.5 238V241M1157.5 244V247M1157.5 250V253M1157.5 256V259M1157.5 262V265M1157.5 268V271M1157.5 274V277M1157.5 280V283M1157.5 286V289M1157.5 292V295M1157.5 298V301M1157.5 304V307M1157.5 310V313M1157.5 316V319M1157.5 322V325M1157.5 328V331M1157.5 334V337M1157.5 340V343M1157.5 346V349M1157.5 352V355M1157.5 358V361M1157.5 364V367M1157.5 370V373M1157.5 376V379M1157.5 382V385M1157.5 388V391M1157.5 394V397M1157.5 400V403M1157.5 406V409M1157.5 412V415M1157.5 418V421M1157.5 424V427M1157.5 430V433M1157.5 436V439M1157.5 442V445M1157.5 448V451M1157.5 454V457M1157.5 460V463M1157.5 466V469M1157.5 472V475M1157.5 478V481M1157.5 484V487M1157.5 490V493M1157.5 496V499M1157.5 502V505M1157.5 508V511M1157.5 514V517M1157.5 520V523M1157.5 526V529M1157.5 532V535M1157.5 538V541M1157.5 544V547M1157.5 550V553M1157.5 556V559M1157.5 562V565M1157.5 568V571M1157.5 574V577M1157.5 580V583M1157.5 586V589M1157.5 592V595M1157.5 598V601M1157.5 604V607M1157.5 610V613M1157.5 616V619M1157.5 622V625M1157.5 628V631M1221.5 5V7M1221.5 10V13M1221.5 16V19M1221.5 22V25M1221.5 28V31M1221.5 34V37M1221.5 40V43M1221.5 46V49M1221.5 52V55M1221.5 58V61M1221.5 64V67M1221.5 70V73M1221.5 76V79M1221.5 82V85M1221.5 88V91M1221.5 94V97M1221.5 100V103M1221.5 106V109M1221.5 112V115M1221.5 118V121M1221.5 124V127M1221.5 130V133M1221.5 136V139M1221.5 142V145M1221.5 148V151M1221.5 154V157M1221.5 160V163M1221.5 166V169M1221.5 172V175M1221.5 178V181M1221.5 184V187M1221.5 190V193M1221.5 196V199M1221.5 202V205M1221.5 208V211M1221.5 214V217M1221.5 220V223M1221.5 226V229M1221.5 232V235M1221.5 238V241M1221.5 244V247M1221.5 250V253M1221.5 256V259M1221.5 262V265M1221.5 268V271M1221.5 274V277M1221.5 280V283M1221.5 286V289M1221.5 292V295M1221.5 298V301M1221.5 304V307M1221.5 310V313M1221.5 316V319M1221.5 322V325M1221.5 328V331M1221.5 334V337M1221.5 340V343M1221.5 346V349M1221.5 352V355M1221.5 358V361M1221.5 364V367M1221.5 370V373M1221.5 376V379M1221.5 382V385M1221.5 388V391M1221.5 394V397M1221.5 400V403M1221.5 406V409M1221.5 412V415M1221.5 418V421M1221.5 424V427M1221.5 430V433M1221.5 436V439M1221.5 442V445M1221.5 448V451M1221.5 454V457M1221.5 460V463M1221.5 466V469M1221.5 472V475M1221.5 478V481M1221.5 484V487M1221.5 490V493M1221.5 496V499M1221.5 502V505M1221.5 508V511M1221.5 514V517M1221.5 520V523M1221.5 526V529M1221.5 532V535M1221.5 538V541M1221.5 544V547M1221.5 550V553M1221.5 556V559M1221.5 562V565M1221.5 568V571M1221.5 574V577M1221.5 580V583M1221.5 586V589M1221.5 592V595M1221.5 598V601M1221.5 604V607M1221.5 610V613M1221.5 616V619M1221.5 622V625M1221.5 628V631M1285.5 5V7M1285.5 10V13M1285.5 16V19M1285.5 22V25M1285.5 28V31M1285.5 34V37M1285.5 40V43M1285.5 46V49M1285.5 52V55M1285.5 58V61M1285.5 64V67M1285.5 70V73M1285.5 76V79M1285.5 82V85M1285.5 88V91M1285.5 94V97M1285.5 100V103M1285.5 106V109M1285.5 112V115M1285.5 118V121M1285.5 124V127M1285.5 130V133M1285.5 136V139M1285.5 142V145M1285.5 148V151M1285.5 154V157M1285.5 160V163M1285.5 166V169M1285.5 172V175M1285.5 178V181M1285.5 184V187M1285.5 190V193M1285.5 196V199M1285.5 202V205M1285.5 208V211M1285.5 214V217M1285.5 220V223M1285.5 226V229M1285.5 232V235M1285.5 238V241M1285.5 244V247M1285.5 250V253M1285.5 256V259M1285.5 262V265M1285.5 268V271M1285.5 274V277M1285.5 280V283M1285.5 286V289M1285.5 292V295M1285.5 298V301M1285.5 304V307M1285.5 310V313M1285.5 316V319M1285.5 322V325M1285.5 328V331M1285.5 334V337M1285.5 340V343M1285.5 346V349M1285.5 352V355M1285.5 358V361M1285.5 364V367M1285.5 370V373M1285.5 376V379M1285.5 382V385M1285.5 388V391M1285.5 394V397M1285.5 400V403M1285.5 406V409M1285.5 412V415M1285.5 418V421M1285.5 424V427M1285.5 430V433M1285.5 436V439M1285.5 442V445M1285.5 448V451M1285.5 454V457M1285.5 460V463M1285.5 466V469M1285.5 472V475M1285.5 478V481M1285.5 484V487M1285.5 490V493M1285.5 496V499M1285.5 502V505M1285.5 508V511M1285.5 514V517M1285.5 520V523M1285.5 526V529M1285.5 532V535M1285.5 538V541M1285.5 544V547M1285.5 550V553M1285.5 556V559M1285.5 562V565M1285.5 568V571M1285.5 574V577M1285.5 580V583M1285.5 586V589M1285.5 592V595M1285.5 598V601M1285.5 604V607M1285.5 610V613M1285.5 616V619M1285.5 622V625M1285.5 628V631M1349.5 5V7M1349.5 10V13M1349.5 16V19M1349.5 22V25M1349.5 28V31M1349.5 34V37M1349.5 40V43M1349.5 46V49M1349.5 52V55M1349.5 58V61M1349.5 64V67M1349.5 70V73M1349.5 76V79M1349.5 82V85M1349.5 88V91M1349.5 94V97M1349.5 100V103M1349.5 106V109M1349.5 112V115M1349.5 118V121M1349.5 124V127M1349.5 130V133M1349.5 136V139M1349.5 142V145M1349.5 148V151M1349.5 154V157M1349.5 160V163M1349.5 166V169M1349.5 172V175M1349.5 178V181M1349.5 184V187M1349.5 190V193M1349.5 196V199M1349.5 202V205M1349.5 208V211M1349.5 214V217M1349.5 220V223M1349.5 226V229M1349.5 232V235M1349.5 238V241M1349.5 244V247M1349.5 250V253M1349.5 256V259M1349.5 262V265M1349.5 268V271M1349.5 274V277M1349.5 280V283M1349.5 286V289M1349.5 292V295M1349.5 298V301M1349.5 304V307M1349.5 310V313M1349.5 316V319M1349.5 322V325M1349.5 328V331M1349.5 334V337M1349.5 340V343M1349.5 346V349M1349.5 352V355M1349.5 358V361M1349.5 364V367M1349.5 370V373M1349.5 376V379M1349.5 382V385M1349.5 388V391M1349.5 394V397M1349.5 400V403M1349.5 406V409M1349.5 412V415M1349.5 418V421M1349.5 424V427M1349.5 430V433M1349.5 436V439M1349.5 442V445M1349.5 448V451M1349.5 454V457M1349.5 460V463M1349.5 466V469M1349.5 472V475M1349.5 478V481M1349.5 484V487M1349.5 490V493M1349.5 496V499M1349.5 502V505M1349.5 508V511M1349.5 514V517M1349.5 520V523M1349.5 526V529M1349.5 532V535M1349.5 538V541M1349.5 544V547M1349.5 550V553M1349.5 556V559M1349.5 562V565M1349.5 568V571M1349.5 574V577M1349.5 580V583M1349.5 586V589M1349.5 592V595M1349.5 598V601M1349.5 604V607M1349.5 610V613M1349.5 616V619M1349.5 622V625M1349.5 628V631M1413.5 5V7M1413.5 10V13M1413.5 16V19M1413.5 22V25M1413.5 28V31M1413.5 34V37M1413.5 40V43M1413.5 46V49M1413.5 52V55M1413.5 58V61M1413.5 64V67M1413.5 70V73M1413.5 76V79M1413.5 82V85M1413.5 88V91M1413.5 94V97M1413.5 100V103M1413.5 106V109M1413.5 112V115M1413.5 118V121M1413.5 124V127M1413.5 130V133M1413.5 136V139M1413.5 142V145M1413.5 148V151M1413.5 154V157M1413.5 160V163M1413.5 166V169M1413.5 172V175M1413.5 178V181M1413.5 184V187M1413.5 190V193M1413.5 196V199M1413.5 202V205M1413.5 208V211M1413.5 214V217M1413.5 220V223M1413.5 226V229M1413.5 232V235M1413.5 238V241M1413.5 244V247M1413.5 250V253M1413.5 256V259M1413.5 262V265M1413.5 268V271M1413.5 274V277M1413.5 280V283M1413.5 286V289M1413.5 292V295M1413.5 298V301M1413.5 304V307M1413.5 310V313M1413.5 316V319M1413.5 322V325M1413.5 328V331M1413.5 334V337M1413.5 340V343M1413.5 346V349M1413.5 352V355M1413.5 358V361M1413.5 364V367M1413.5 370V373M1413.5 376V379M1413.5 382V385M1413.5 388V391M1413.5 394V397M1413.5 400V403M1413.5 406V409M1413.5 412V415M1413.5 418V421M1413.5 424V427M1413.5 430V433M1413.5 436V439M1413.5 442V445M1413.5 448V451M1413.5 454V457M1413.5 460V463M1413.5 466V469M1413.5 472V475M1413.5 478V481M1413.5 484V487M1413.5 490V493M1413.5 496V499M1413.5 502V505M1413.5 508V511M1413.5 514V517M1413.5 520V523M1413.5 526V529M1413.5 532V535M1413.5 538V541M1413.5 544V547M1413.5 550V553M1413.5 556V559M1413.5 562V565M1413.5 568V571M1413.5 574V577M1413.5 580V583M1413.5 586V589M1413.5 592V595M1413.5 598V601M1413.5 604V607M1413.5 610V613M1413.5 616V619M1413.5 622V625M1413.5 628V631M1477.5 5V7M1477.5 10V13M1477.5 16V19M1477.5 22V25M1477.5 28V31M1477.5 34V37M1477.5 40V43M1477.5 46V49M1477.5 52V55M1477.5 58V61M1477.5 64V67M1477.5 70V73M1477.5 76V79M1477.5 82V85M1477.5 88V91M1477.5 94V97M1477.5 100V103M1477.5 106V109M1477.5 112V115M1477.5 118V121M1477.5 124V127M1477.5 130V133M1477.5 136V139M1477.5 142V145M1477.5 148V151M1477.5 154V157M1477.5 160V163M1477.5 166V169M1477.5 172V175M1477.5 178V181M1477.5 184V187M1477.5 190V193M1477.5 196V199M1477.5 202V205M1477.5 208V211M1477.5 214V217M1477.5 220V223M1477.5 226V229M1477.5 232V235M1477.5 238V241M1477.5 244V247M1477.5 250V253M1477.5 256V259M1477.5 262V265M1477.5 268V271M1477.5 274V277M1477.5 280V283M1477.5 286V289M1477.5 292V295M1477.5 298V301M1477.5 304V307M1477.5 310V313M1477.5 316V319M1477.5 322V325M1477.5 328V331M1477.5 334V337M1477.5 340V343M1477.5 346V349M1477.5 352V355M1477.5 358V361M1477.5 364V367M1477.5 370V373M1477.5 376V379M1477.5 382V385M1477.5 388V391M1477.5 394V397M1477.5 400V403M1477.5 406V409M1477.5 412V415M1477.5 418V421M1477.5 424V427M1477.5 430V433M1477.5 436V439M1477.5 442V445M1477.5 448V451M1477.5 454V457M1477.5 460V463M1477.5 466V469M1477.5 472V475M1477.5 478V481M1477.5 484V487M1477.5 490V493M1477.5 496V499M1477.5 502V505M1477.5 508V511M1477.5 514V517M1477.5 520V523M1477.5 526V529M1477.5 532V535M1477.5 538V541M1477.5 544V547M1477.5 550V553M1477.5 556V559M1477.5 562V565M1477.5 568V571M1477.5 574V577M1477.5 580V583M1477.5 586V589M1477.5 592V595M1477.5 598V601M1477.5 604V607M1477.5 610V613M1477.5 616V619M1477.5 622V625M1477.5 628V631M69.5 636V637M69.5 640V643M69.5 646V649M69.5 652V655M69.5 658V661M69.5 664V667M69.5 670V673M69.5 676V679M69.5 682V685M69.5 688V691M69.5 694V697M69.5 700V703M69.5 706V709M69.5 712V715M69.5 718V721M69.5 724V727M69.5 730V733M69.5 736V739M69.5 742V745M69.5 748V751M69.5 754V757M69.5 760V763M69.5 766V769M69.5 772V775M69.5 778V781M133.5 636V637M133.5 640V643M133.5 646V649M133.5 652V655M133.5 658V661M133.5 664V667M133.5 670V673M133.5 676V679M133.5 682V685M133.5 688V691M133.5 694V697M133.5 700V703M133.5 706V709M133.5 712V715M133.5 718V721M133.5 724V727M133.5 730V733M133.5 736V739M133.5 742V745M133.5 748V751M133.5 754V757M133.5 760V763M133.5 766V769M133.5 772V775M133.5 778V781M197.5 636V637M197.5 640V643M197.5 646V649M197.5 652V655M197.5 658V661M197.5 664V667M197.5 670V673M197.5 676V679M197.5 682V685M197.5 688V691M197.5 694V697M197.5 700V703M197.5 706V709M197.5 712V715M197.5 718V721M197.5 724V727M197.5 730V733M197.5 736V739M197.5 742V745M197.5 748V751M197.5 754V757M197.5 760V763M197.5 766V769M197.5 772V775M197.5 778V781M261.5 636V637M261.5 640V643M261.5 646V649M261.5 652V655M261.5 658V661M261.5 664V667M261.5 670V673M261.5 676V679M261.5 682V685M261.5 688V691M261.5 694V697M261.5 700V703M261.5 706V709M261.5 712V715M261.5 718V721M261.5 724V727M261.5 730V733M261.5 736V739M261.5 742V745M261.5 748V751M261.5 754V757M261.5 760V763M261.5 766V769M261.5 772V775M261.5 778V781M325.5 636V637M325.5 640V643M325.5 646V649M325.5 652V655M325.5 658V661M325.5 664V667M325.5 670V673M325.5 676V679M325.5 682V685M325.5 688V691M325.5 694V697M325.5 700V703M325.5 706V709M325.5 712V715M325.5 718V721M325.5 724V727M325.5 730V733M325.5 736V739M325.5 742V745M325.5 748V751M325.5 754V757M325.5 760V763M325.5 766V769M325.5 772V775M325.5 778V781M389.5 636V637M389.5 640V643M389.5 646V649M389.5 652V655M389.5 658V661M389.5 664V667M389.5 670V673M389.5 676V679M389.5 682V685M389.5 688V691M389.5 694V697M389.5 700V703M389.5 706V709M389.5 712V715M389.5 718V721M389.5 724V727M389.5 730V733M389.5 736V739M389.5 742V745M389.5 748V751M389.5 754V757M389.5 760V763M389.5 766V769M389.5 772V775M389.5 778V781M453.5 636V637M453.5 640V643M453.5 646V649M453.5 652V655M453.5 658V661M453.5 664V667M453.5 670V673M453.5 676V679M453.5 682V685M453.5 688V691M453.5 694V697M453.5 700V703M453.5 706V709M453.5 712V715M453.5 718V721M453.5 724V727M453.5 730V733M453.5 736V739M453.5 742V745M453.5 748V751M453.5 754V757M453.5 760V763M453.5 766V769M453.5 772V775M453.5 778V781M517.5 636V637M517.5 640V643M517.5 646V649M517.5 652V655M517.5 658V661M517.5 664V667M517.5 670V673M517.5 676V679M517.5 682V685M517.5 688V691M517.5 694V697M517.5 700V703M517.5 706V709M517.5 712V715M517.5 718V721M517.5 724V727M517.5 730V733M517.5 736V739M517.5 742V745M517.5 748V751M517.5 754V757M517.5 760V763M517.5 766V769M517.5 772V775M517.5 778V781M581.5 636V637M581.5 640V643M581.5 646V649M581.5 652V655M581.5 658V661M581.5 664V667M581.5 670V673M581.5 676V679M581.5 682V685M581.5 688V691M581.5 694V697M581.5 700V703M581.5 706V709M581.5 712V715M581.5 718V721M581.5 724V727M581.5 730V733M581.5 736V739M581.5 742V745M581.5 748V751M581.5 754V757M581.5 760V763M581.5 766V769M581.5 772V775M581.5 778V781M645.5 636V637M645.5 640V643M645.5 646V649M645.5 652V655M645.5 658V661M645.5 664V667M645.5 670V673M645.5 676V679M645.5 682V685M645.5 688V691M645.5 694V697M645.5 700V703M645.5 706V709M645.5 712V715M645.5 718V721M645.5 724V727M645.5 730V733M645.5 736V739M645.5 742V745M645.5 748V751M645.5 754V757M645.5 760V763M645.5 766V769M645.5 772V775M645.5 778V781M709.5 636V637M709.5 640V643M709.5 646V649M709.5 652V655M709.5 658V661M709.5 664V667M709.5 670V673M709.5 676V679M709.5 682V685M709.5 688V691M709.5 694V697M709.5 700V703M709.5 706V709M709.5 712V715M709.5 718V721M709.5 724V727M709.5 730V733M709.5 736V739M709.5 742V745M709.5 748V751M709.5 754V757M709.5 760V763M709.5 766V769M709.5 772V775M709.5 778V781M773.5 636V637M773.5 640V643M773.5 646V649M773.5 652V655M773.5 658V661M773.5 664V667M773.5 670V673M773.5 676V679M773.5 682V685M773.5 688V691M773.5 694V697M773.5 700V703M773.5 706V709M773.5 712V715M773.5 718V721M773.5 724V727M773.5 730V733M773.5 736V739M773.5 742V745M773.5 748V751M773.5 754V757M773.5 760V763M773.5 766V769M773.5 772V775M773.5 778V781M837.5 636V637M837.5 640V643M837.5 646V649M837.5 652V655M837.5 658V661M837.5 664V667M837.5 670V673M837.5 676V679M837.5 682V685M837.5 688V691M837.5 694V697M837.5 700V703M837.5 706V709M837.5 712V715M837.5 718V721M837.5 724V727M837.5 730V733M837.5 736V739M837.5 742V745M837.5 748V751M837.5 754V757M837.5 760V763M837.5 766V769M837.5 772V775M837.5 778V781M901.5 636V637M901.5 640V643M901.5 646V649M901.5 652V655M901.5 658V661M901.5 664V667M901.5 670V673M901.5 676V679M901.5 682V685M901.5 688V691M901.5 694V697M901.5 700V703M901.5 706V709M901.5 712V715M901.5 718V721M901.5 724V727M901.5 730V733M901.5 736V739M901.5 742V745M901.5 748V751M901.5 754V757M901.5 760V763M901.5 766V769M901.5 772V775M901.5 778V781M965.5 636V637M965.5 640V643M965.5 646V649M965.5 652V655M965.5 658V661M965.5 664V667M965.5 670V673M965.5 676V679M965.5 682V685M965.5 688V691M965.5 694V697M965.5 700V703M965.5 706V709M965.5 712V715M965.5 718V721M965.5 724V727M965.5 730V733M965.5 736V739M965.5 742V745M965.5 748V751M965.5 754V757M965.5 760V763M965.5 766V769M965.5 772V775M965.5 778V781M1029.5 636V637M1029.5 640V643M1029.5 646V649M1029.5 652V655M1029.5 658V661M1029.5 664V667M1029.5 670V673M1029.5 676V679M1029.5 682V685M1029.5 688V691M1029.5 694V697M1029.5 700V703M1029.5 706V709M1029.5 712V715M1029.5 718V721M1029.5 724V727M1029.5 730V733M1029.5 736V739M1029.5 742V745M1029.5 748V751M1029.5 754V757M1029.5 760V763M1029.5 766V769M1029.5 772V775M1029.5 778V781M1093.5 636V637M1093.5 640V643M1093.5 646V649M1093.5 652V655M1093.5 658V661M1093.5 664V667M1093.5 670V673M1093.5 676V679M1093.5 682V685M1093.5 688V691M1093.5 694V697M1093.5 700V703M1093.5 706V709M1093.5 712V715M1093.5 718V721M1093.5 724V727M1093.5 730V733M1093.5 736V739M1093.5 742V745M1093.5 748V751M1093.5 754V757M1093.5 760V763M1093.5 766V769M1093.5 772V775M1093.5 778V781M1157.5 636V637M1157.5 640V643M1157.5 646V649M1157.5 652V655M1157.5 658V661M1157.5 664V667M1157.5 670V673M1157.5 676V679M1157.5 682V685M1157.5 688V691M1157.5 694V697M1157.5 700V703M1157.5 706V709M1157.5 712V715M1157.5 718V721M1157.5 724V727M1157.5 730V733M1157.5 736V739M1157.5 742V745M1157.5 748V751M1157.5 754V757M1157.5 760V763M1157.5 766V769M1157.5 772V775M1157.5 778V781M1221.5 636V637M1221.5 640V643M1221.5 646V649M1221.5 652V655M1221.5 658V661M1221.5 664V667M1221.5 670V673M1221.5 676V679M1221.5 682V685M1221.5 688V691M1221.5 694V697M1221.5 700V703M1221.5 706V709M1221.5 712V715M1221.5 718V721M1221.5 724V727M1221.5 730V733M1221.5 736V739M1221.5 742V745M1221.5 748V751M1221.5 754V757M1221.5 760V763M1221.5 766V769M1221.5 772V775M1221.5 778V781M1285.5 636V637M1285.5 640V643M1285.5 646V649M1285.5 652V655M1285.5 658V661M1285.5 664V667M1285.5 670V673M1285.5 676V679M1285.5 682V685M1285.5 688V691M1285.5 694V697M1285.5 700V703M1285.5 706V709M1285.5 712V715M1285.5 718V721M1285.5 724V727M1285.5 730V733M1285.5 736V739M1285.5 742V745M1285.5 748V751M1285.5 754V757M1285.5 760V763M1285.5 766V769M1285.5 772V775M1285.5 778V781M1349.5 636V637M1349.5 640V643M1349.5 646V649M1349.5 652V655M1349.5 658V661M1349.5 664V667M1349.5 670V673M1349.5 676V679M1349.5 682V685M1349.5 688V691M1349.5 694V697M1349.5 700V703M1349.5 706V709M1349.5 712V715M1349.5 718V721M1349.5 724V727M1349.5 730V733M1349.5 736V739M1349.5 742V745M1349.5 748V751M1349.5 754V757M1349.5 760V763M1349.5 766V769M1349.5 772V775M1349.5 778V781M1413.5 636V637M1413.5 640V643M1413.5 646V649M1413.5 652V655M1413.5 658V661M1413.5 664V667M1413.5 670V673M1413.5 676V679M1413.5 682V685M1413.5 688V691M1413.5 694V697M1413.5 700V703M1413.5 706V709M1413.5 712V715M1413.5 718V721M1413.5 724V727M1413.5 730V733M1413.5 736V739M1413.5 742V745M1413.5 748V751M1413.5 754V757M1413.5 760V763M1413.5 766V769M1413.5 772V775M1413.5 778V781M1477.5 636V637M1477.5 640V643M1477.5 646V649M1477.5 652V655M1477.5 658V661M1477.5 664V667M1477.5 670V673M1477.5 676V679M1477.5 682V685M1477.5 688V691M1477.5 694V697M1477.5 700V703M1477.5 706V709M1477.5 712V715M1477.5 718V721M1477.5 724V727M1477.5 730V733M1477.5 736V739M1477.5 742V745M1477.5 748V751M1477.5 754V757M1477.5 760V763M1477.5 766V769M1477.5 772V775M1477.5 778V781M6 749.5H9M12 749.5H15M18 749.5H21M24 749.5H27M30 749.5H33M36 749.5H39M42 749.5H45M48 749.5H51M54 749.5H57M60 749.5H63M66 749.5H69M72 749.5H75M78 749.5H81M84 749.5H87M90 749.5H93M96 749.5H99M102 749.5H105M108 749.5H111M114 749.5H117M120 749.5H123M126 749.5H129M132 749.5H135M138 749.5H141M144 749.5H147M150 749.5H153M156 749.5H159M162 749.5H165M168 749.5H171M174 749.5H177M180 749.5H183M186 749.5H189M192 749.5H195M198 749.5H201M204 749.5H207M210 749.5H213M216 749.5H219M222 749.5H225M228 749.5H231M234 749.5H237M240 749.5H243M246 749.5H249M252 749.5H255M258 749.5H261M264 749.5H267M270 749.5H273M276 749.5H279M282 749.5H285M288 749.5H291M294 749.5H297M300 749.5H303M306 749.5H309M312 749.5H315M318 749.5H321M324 749.5H327M330 749.5H333M336 749.5H339M342 749.5H345M348 749.5H351M354 749.5H357M360 749.5H363M366 749.5H369M372 749.5H375M378 749.5H381M384 749.5H387M390 749.5H393M396 749.5H399M402 749.5H405M408 749.5H411M414 749.5H417M420 749.5H423M426 749.5H429M432 749.5H435M438 749.5H441M444 749.5H447M450 749.5H453M456 749.5H459M462 749.5H465M468 749.5H471M474 749.5H477M480 749.5H483M486 749.5H489M492 749.5H495M498 749.5H501M504 749.5H507M510 749.5H513M516 749.5H519M522 749.5H525M528 749.5H531M534 749.5H537M540 749.5H543M546 749.5H549M552 749.5H555M558 749.5H561M564 749.5H567M570 749.5H573M576 749.5H579M582 749.5H585M588 749.5H591M594 749.5H597M600 749.5H603M606 749.5H609M612 749.5H615M618 749.5H621M624 749.5H627M630 749.5H633M636 749.5H639M642 749.5H645M648 749.5H651M654 749.5H657M660 749.5H663M666 749.5H669M672 749.5H675M678 749.5H681M684 749.5H687M690 749.5H693M696 749.5H699M702 749.5H705M708 749.5H711M714 749.5H717M720 749.5H723M726 749.5H729M732 749.5H735M738 749.5H741M744 749.5H747M750 749.5H753M756 749.5H759M762 749.5H765M768 749.5H771M774 749.5H777M780 749.5H783M786 749.5H789M792 749.5H795M798 749.5H801M804 749.5H807M810 749.5H813M816 749.5H819M822 749.5H825M828 749.5H831M834 749.5H837M840 749.5H843M846 749.5H849M852 749.5H855M858 749.5H861M864 749.5H867M870 749.5H873M876 749.5H879M882 749.5H885M888 749.5H891M894 749.5H897M900 749.5H903M906 749.5H909M912 749.5H915M918 749.5H921M924 749.5H927M930 749.5H933M936 749.5H939M942 749.5H945M948 749.5H951M954 749.5H957M960 749.5H963M966 749.5H969M972 749.5H975M978 749.5H981M984 749.5H987M990 749.5H993M996 749.5H999M1002 749.5H1005M1008 749.5H1011M1014 749.5H1017M1020 749.5H1023M1026 749.5H1029M1032 749.5H1035M1038 749.5H1041M1044 749.5H1047M1050 749.5H1053M1056 749.5H1059M1062 749.5H1065M1068 749.5H1071M1074 749.5H1077M1080 749.5H1083M1086 749.5H1089M1092 749.5H1095M1098 749.5H1101M1104 749.5H1107M1110 749.5H1113M1116 749.5H1119M1122 749.5H1125M1128 749.5H1131M1134 749.5H1137M1140 749.5H1143M1146 749.5H1149M1152 749.5H1155M1158 749.5H1161M1164 749.5H1167M1170 749.5H1173M1176 749.5H1179M1182 749.5H1185M1188 749.5H1191M1194 749.5H1197M1200 749.5H1203M1206 749.5H1209M1212 749.5H1215M1218 749.5H1221M1224 749.5H1227M1230 749.5H1233M1236 749.5H1239M1242 749.5H1245M1248 749.5H1251M1254 749.5H1257M1260 749.5H1263M1266 749.5H1269M1272 749.5H1275M1278 749.5H1281M1284 749.5H1287M1290 749.5H1293M1296 749.5H1299M1302 749.5H1305M1308 749.5H1311M1314 749.5H1317M1320 749.5H1323M1326 749.5H1329M1332 749.5H1335M1338 749.5H1341M1344 749.5H1347M1350 749.5H1353M1356 749.5H1359M1362 749.5H1365M1368 749.5H1371M1374 749.5H1377M1380 749.5H1383M1386 749.5H1389M1392 749.5H1395M1398 749.5H1401M1404 749.5H1407M1410 749.5H1413M1416 749.5H1419M1422 749.5H1425M1428 749.5H1431M1434 749.5H1437M1440 749.5H1443M1446 749.5H1449M1452 749.5H1455M1458 749.5H1461M1464 749.5H1467M1470 749.5H1473M1476 749.5H1479M1482 749.5H1485M1488 749.5H1491M1494 749.5H1497M1500 749.5H1503M1506 749.5H1509M1512 749.5H1515M1518 749.5H1521" stroke="#778899" stroke-width="1" fill="none"/>
<rect x="5" y="103" width="1520" height="1" fill="#778899"/>
<rect x="5" y="677" width="3" height="72" fill="#0f0"/>
<rect x="11" y="677" width="5" height="72" fill="#0f0"/>
<rect x="19" y="676" width="5" height="73" fill="#0f0"/>
<rect x="27" y="680" width="5" height="69" fill="#0f0"/>
<rect x="35" y="683" width="5" height="66" fill="#0f0"/>
<rect x="43" y="683" width="5" height="66" fill="#0f0"/>
<rect x="51" y="687" width="5" height="62" fill="#0f0"/>
<rect x="59" y="689" width="5" height="60" fill="#0f0"/>
<rect x="67" y="676" width="5" height="73" fill="#0f0"/>
<rect x="75" y="666" width="5" height="83" fill="#0f0"/>
<rect x="83" y="659" width="5" height="90" fill="#0f0"/>
<rect x="91" y="656" width="5" height="93" fill="#0f0"/>
<rect x="99" y="651" width="5" height="98" fill="#0f0"/>
<rect x="107" y="648" width="5" height="101" fill="#0f0"/>
<rect x="115" y="645" width="5" height="104" fill="#0f0"/>
<rect x="123" y="645" width="5" height="104" fill="#0f0"/>
<rect x="131" y="646" width="5" height="103" fill="#0f0"/>
<rect x="139" y="646" width="5" height="103" fill="#0f0"/>
<rect x="147" y="652" width="5" height="97" fill="#0f0"/>
<rect x="155" y="655" width="5" height="94" fill="#0f0"/>
<rect x="163" y="655" width="5" height="94" fill="#0f0"/>
<rect x="171" y="656" width="5" height="93" fill="#0f0"/>
<rect x="179" y="659" width="5" height="90" fill="#0f0"/>
<rect x="187" y="662" width="5" height="87" fill="#0f0"/>
<rect x="195" y="660" width="5" height="89" fill="#0f0"/>
<rect x="203" y="663" width="5" height="86" fill="#0f0"/>
<rect x="211" y="668" width="5" height="81" fill="#0f0"/>
<rect x="219" y="670" width="5" height="79" fill="#0f0"/>
<rect x="227" y="671" width="5" height="78" fill="#0f0"/>
<rect x="235" y="677" width="5" height="72" fill="#0f0"/>
<rect x="243" y="680" width="5" height="69" fill="#0f0"/>
<rect x="251" y="681" width="5" height="68" fill="#0f0"/>
<rect x="259" y="684" width="5" height="65" fill="#0f0"/>
<rect x="267" y="689" width="5" height="60" fill="#0f0"/>
<rect x="275" y="694" width="5" height="55" fill="#0f0"/>
<rect x="283" y="702" width="5" height="47" fill="#0f0"/>
<rect x="291" y="707" width="5" height="42" fill="#0f0"/>
<rect x="299" y="713" width="5" height="36" fill="#0f0"/>
<rect x="307" y="719" width="5" height="30" fill="#0f0"/>
<rect x="315" y="725" width="5" height="24" fill="#0f0"/>
<rect x="323" y="729" width="5" height="20" fill="#0f0"/>
<rect x="331" y="732" width="5" height="17" fill="#0f0"/>
<rect x="339" y="733" width="5" height="16" fill="#0f0"/>
<rect x="347" y="737" width="5" height="12" fill="#0f0"/>
<rect x="355" y="741" width="5" height="8" fill="#0f0"/>
<rect x="363" y="747" width="5" height="2" fill="#0f0"/>
<rect x="371" y="749" width="5" height="3" fill="#0f0"/>
<rect x="379" y="749" width="5" height="9" fill="#0f0"/>
<rect x="387" y="749" width="5" height="12" fill="#0f0"/>
<rect x="395" y="749" width="5" height="16" fill="#0f0"/>
<rect x="403" y="749" width="5" height="20" fill="#0f0"/>
<rect x="411" y="749" width="5" height="24" fill="#0f0"/>
<rect x="419" y="749" width="5" height="28" fill="#0f0"/>
<rect x="427" y="749" width="5" height="29" fill="#0f0"/>
<rect x="435" y="749" width="5" height="27" fill="#0f0"/>
<rect x="443" y="749" width="5" height="26" fill="#0f0"/>
<rect x="451" y="749" width="5" height="24" fill="#0f0"/>
<rect x="459" y="749" width="5" height="22" fill="#0f0"/>
<rect x="467" y="749" width="5" height="24" fill="#0f0"/>
<rect x="475" y="749" width="5" height="23" fill="#0f0"/>
<rect x="483" y="749" width="5" height="24" fill="#0f0"/>
<rect x="491" y="749" width="5" height="22" fill="#0f0"/>
<rect x="499" y="749" width="5" height="22" fill="#0f0"/>
<rect x="507" y="749" width="5" height="20" fill="#0f0"/>
<rect x="515" y="749" width="5" height="15" fill="#0f0"/>
<rect x="523" y="749" width="5" height="11" fill="#0f0"/>
<rect x="531" y="749" width="5" height="6" fill="#0f0"/>
<rect x="539" y="749" width="5" height="3" fill="#0f0"/>
<rect x="547" y="748" width="5" height="1" fill="#0f0"/>
<rect x="555" y="745" width="5" height="4" fill="#0f0"/>
<rect x="563" y="744" width="5" height="5" fill="#0f0"/>
<rect x="571" y="743" width="5" height="6" fill="#0f0"/>
<rect x="579" y="741" width="5" height="8" fill="#0f0"/>
<rect x="587" y="742" width="5" height="7" fill="#0f0"/>
<rect x="595" y="743" width="5" height="6" fill="#0f0"/>
<rect x="603" y="745" width="5" height="4" fill="#0f0"/>
<rect x="611" y="745" width="5" height="4" fill="#0f0"/>
<rect x="619" y="745" width="5" height="4" fill="#0f0"/>
<rect x="627" y="746" width="5" height="3" fill="#0f0"/>
<rect x="635" y="747" width="5" height="2" fill="#0f0"/>
<rect x="643" y="746" width="5" height="3" fill="#0f0"/>
<rect x="651" y="748" width="5" height="1" fill="#0f0"/>
<rect x="659" y="749" width="5" height="4" fill="#0f0"/>
<rect x="667" y="749" width="5" height="7" fill="#0f0"/>
<rect x="675" y="749" width="5" height="6" fill="#0f0"/>
<rect x="683" y="749" width="5" height="4" fill="#0f0"/>
<rect x="691" y="749" width="5" height="1" fill="#0f0"/>
<rect x="699" y="747" width="5" height="2" fill="#0f0"/>
<rect x="707" y="748" width="5" height="1" fill="#0f0"/>
<rect x="723" y="748" width="5" height="1" fill="#0f0"/>
<rect x="731" y="746" width="5" height="3" fill="#0f0"/>
<rect x="739" y="743" width="5" height="6" fill="#0f0"/>
<rect x="747" y="744" width="5" height="5" fill="#0f0"/>
<rect x="755" y="739" width="5" height="10" fill="#0f0"/>
<rect x="763" y="733" width="5" height="16" fill="#0f0"/>
<rect x="771" y="728" width="5" height="21" fill="#0f0"/>
<rect x="779" y="724" width="5" height="25" fill="#0f0"/>
<rect x="787" y="720" width="5" height="29" fill="#0f0"/>
<rect x="795" y="711" width="5" height="38" fill="#0f0"/>
<rect x="803" y="702" width="5" height="47" fill="#0f0"/>
<rect x="811" y="696" width="5" height="53" fill="#0f0"/>
<rect x="819" y="693" width="5" height="56" fill="#0f0"/>
<rect x="827" y="691" width="5" height="58" fill="#0f0"/>
<rect x="835" y="690" width="5" height="59" fill="#0f0"/>
<rect x="843" y="695" width="5" height="54" fill="#0f0"/>
<rect x="851" y="695" width="5" height="54" fill="#0f0"/>
<rect x="859" y="697" width="5" height="52" fill="#0f0"/>
<rect x="867" y="693" width="5" height="56" fill="#0f0"/>
<rect x="875" y="694" width="5" height="55" fill="#0f0"/>
<rect x="883" y="699" width="5" height="50" fill="#0f0"/>
<rect x="891" y="709" width="5" height="40" fill="#0f0"/>
<rect x="899" y="720" width="5" height="29" fill="#0f0"/>
<rect x="907" y="729" width="5" height="20" fill="#0f0"/>
<rect x="915" y="736" width="5" height="13" fill="#0f0"/>
<rect x="923" y="741" width="5" height="8" fill="#0f0"/>
<rect x="931" y="742" width="5" height="7" fill="#0f0"/>
<rect x="939" y="746" width="5" height="3" fill="#0f0"/>
<rect x="947" y="748" width="5" height="1" fill="#0f0"/>
<rect x="955" y="749" width="5" height="4" fill="#0f0"/>
<rect x="963" y="749" width="5" height="5" fill="#0f0"/>
<rect x="971" y="749" width="5" height="6" fill="#0f0"/>
<rect x="979" y="749" width="5" height="8" fill="#0f0"/>
<rect x="987" y="749" width="5" height="5" fill="#0f0"/>
<rect x="995" y="748" width="5" height="1" fill="#0f0"/>
<rect x="1003" y="745" width="5" height="4" fill="#0f0"/>
<rect x="1011" y="744" width="5" height="5" fill="#0f0"/>
<rect x="1019" y="742" width="5" height="7" fill="#0f0"/>
<rect x="1027" y="742" width="5" height="7" fill="#0f0"/>
<rect x="1035" y="739" width="5" height="10" fill="#0f0"/>
<rect x="1043" y="738" width="5" height="11" fill="#0f0"/>
<rect x="1051" y="736" width="5" height="13" fill="#0f0"/>
<rect x="1059" y="734" width="5" height="15" fill="#0f0"/>
<rect x="1067" y="733" width="5" height="16" fill="#0f0"/>
<rect x="1075" y="729" width="5" height="20" fill="#0f0"/>
<rect x="1083" y="728" width="5" height="21" fill="#0f0"/>
<rect x="1091" y="726" width="5" height="23" fill="#0f0"/>
<rect x="1099" y="727" width="5" height="22" fill="#0f0"/>
<rect x="1107" y="730" width="5" height="19" fill="#0f0"/>
<rect x="1115" y="731" width="5" height="18" fill="#0f0"/>
<rect x="1123" y="732" width="5" height="17" fill="#0f0"/>
<rect x="1131" y="736" width="5" height="13" fill="#0f0"/>
<rect x="1139" y="740" width="5" height="9" fill="#0f0"/>
<rect x="1147" y="744" width="5" height="5" fill="#0f0"/>
<rect x="1155" y="746" width="5" height="3" fill="#0f0"/>
<rect x="1163" y="746" width="5" height="3" fill="#0f0"/>
<rect x="1171" y="747" width="5" height="2" fill="#0f0"/>
<rect x="1179" y="739" width="5" height="10" fill="#0f0"/>
<rect x="1187" y="732" width="5" height="17" fill="#0f0"/>
<rect x="1195" y="728" width="5" height="21" fill="#0f0"/>
<rect x="1203" y="724" width="5" height="25" fill="#0f0"/>
<g>
<rect x="5" y="568" width="1" height="26" fill="#000"/>
<rect x="5" y="573" width="3" height="12" fill="#000"/>
<rect x="5" y="574" width="2" height="10" fill="#f00"/>
<rect x="13" y="553" width="1" height="57" fill="#000"/>
<rect x="11" y="573" width="5" height="14" fill="#000"/>
<rect x="12" y="574" width="3" height="12" fill="#0f0"/>
<rect x="21" y="522" width="1" height="92" fill="#000"/>
<rect x="19" y="573" width="5" height="15" fill="#000"/>
<rect x="20" y="574" width="3" height="13" fill="#f00"/>
<rect x="29" y="559" width="1" height="60" fill="#000"/>
<rect x="27" y="573" width="5" height="38" fill="#000"/>
<rect x="28" y="574" width="3" height="36" fill="#0f0"/>
<rect x="37" y="592" width="1" height="21" fill="#000"/>
<rect x="35" y="597" width="5" height="14" fill="#000"/>
<rect x="36" y="598" width="3" height="12" fill="#f00"/>
<rect x="45" y="580" width="1" height="25" fill="#000"/>
<rect x="43" y="584" width="5" height="15" fill="#000"/>
<rect x="44" y="585" width="3" height="13" fill="#f00"/>
<rect x="53" y="568" width="1" height="36" fill="#000"/>
<rect x="51" y="583" width="5" height="18" fill="#000"/>
<rect x="52" y="584" width="3" height="16" fill="#0f0"/>
<rect x="61" y="580" width="1" height="30" fill="#000"/>
<rect x="59" y="593" width="5" height="8" fill="#000"/>
<rect x="60" y="594" width="3" height="6" fill="#f00"/>
<rect x="69" y="375" width="1" height="221" fill="#000"/>
<rect x="67" y="385" width="5" height="208" fill="#000"/>
<rect x="68" y="386" width="3" height="206" fill="#f00"/>
<rect x="77" y="367" width="1" height="54" fill="#000"/>
<rect x="75" y="370" width="5" height="16" fill="#000"/>
<rect x="76" y="371" width="3" height="14" fill="#f00"/>
<rect x="85" y="355" width="1" height="26" fill="#000"/>
<rect x="83" y="370" width="5" height="10" fill="#000"/>
<rect x="84" y="371" width="3" height="8" fill="#0f0"/>
<rect x="93" y="374" width="1" height="30" fill="#000"/>
<rect x="91" y="380" width="5" height="5" fill="#000"/>
<rect x="92" y="381" width="3" height="3" fill="#0f0"/>
<rect x="101" y="322" width="1" height="70" fill="#000"/>
<rect x="99" y="337" width="5" height="48" fill="#000"/>
<rect x="100" y="338" width="3" height="46" fill="#f00"/>
<rect x="109" y="311" width="1" height="56" fill="#000"/>
<rect x="107" y="337" width="5" height="10" fill="#000"/>
<rect x="108" y="338" width="3" height="8" fill="#0f0"/>
<rect x="117" y="313" width="1" height="51" fill="#000"/>
<rect x="115" y="325" width="5" height="22" fill="#000"/>
<rect x="116" y="326" width="3" height="20" fill="#f00"/>
<rect x="125" y="304" width="1" height="41" fill="#000"/>
<rect x="123" y="305" width="5" height="21" fill="#000"/>
<rect x="124" y="306" width="3" height="19" fill="#f00"/>
<rect x="133" y="309" width="1" height="28" fill="#000"/>
<rect x="131" y="309" width="5" height="18" fill="#000"/>
<rect x="132" y="310" width="3" height="16" fill="#0f0"/>
<rect x="141" y="312" width="1" height="27" fill="#000"/>
<rect x="139" y="324" width="5" height="3" fill="#000"/>
<rect x="140" y="325" width="3" height="1" fill="#0f0"/>
<rect x="149" y="325" width="1" height="28" fill="#000"/>
<rect x="147" y="326" width="5" height="7" fill="#000"/>
<rect x="148" y="327" width="3" height="5" fill="#0f0"/>
<rect x="157" y="313" width="1" height="62" fill="#000"/>
<rect x="155" y="331" width="5" height="30" fill="#000"/>
<rect x="156" y="332" width="3" height="28" fill="#0f0"/>
<rect x="165" y="271" width="1" height="94" fill="#000"/>
<rect x="163" y="287" width="5" height="74" fill="#000"/>
<rect x="164" y="288" width="3" height="72" fill="#f00"/>
<rect x="173" y="276" width="1" height="36" fill="#000"/>
<rect x="171" y="280" width="5" height="8" fill="#000"/>
<rect x="172" y="281" width="3" height="6" fill="#f00"/>
<rect x="181" y="273" width="1" height="27" fill="#000"/>
<rect x="179" y="281" width="5" height="17" fill="#000"/>
<rect x="180" y="282" width="3" height="15" fill="#0f0"/>
<rect x="189" y="283" width="1" height="27" fill="#000"/>
<rect x="187" y="289" width="5" height="8" fill="#000"/>
<rect x="188" y="290" width="3" height="6" fill="#f00"/>
<rect x="197" y="227" width="1" height="75" fill="#000"/>
<rect x="195" y="234" width="5" height="56" fill="#000"/>
<rect x="196" y="235" width="3" height="54" fill="#f00"/>
<rect x="205" y="233" width="1" height="49" fill="#000"/>
<rect x="203" y="233" width="5" height="30" fill="#000"/>
<rect x="204" y="234" width="3" height="28" fill="#0f0"/>
<rect x="213" y="216" width="1" height="88" fill="#000"/>
<rect x="211" y="262" width="5" height="28" fill="#000"/>
<rect x="212" y="263" width="3" height="26" fill="#0f0"/>
<rect x="221" y="219" width="1" height="86" fill="#000"/>
<rect x="219" y="254" width="5" height="36" fill="#000"/>
<rect x="220" y="255" width="3" height="34" fill="#f00"/>
<rect x="229" y="241" width="1" height="23" fill="#000"/>
<rect x="227" y="243" width="5" height="12" fill="#000"/>
<rect x="228" y="244" width="3" height="10" fill="#f00"/>
<rect x="237" y="240" width="1" height="47" fill="#000"/>
<rect x="235" y="243" width="5" height="43" fill="#000"/>
<rect x="236" y="244" width="3" height="41" fill="#0f0"/>
<rect x="245" y="258" width="1" height="33" fill="#000"/>
<rect x="243" y="262" width="5" height="25" fill="#000"/>
<rect x="244" y="263" width="3" height="23" fill="#f00"/>
<rect x="253" y="223" width="1" height="44" fill="#000"/>
<rect x="251" y="231" width="5" height="32" fill="#000"/>
<rect x="252" y="232" width="3" height="30" fill="#f00"/>
<rect x="261" y="230" width="1" height="52" fill="#000"/>
<rect x="259" y="230" width="5" height="19" fill="#000"/>
<rect x="260" y="231" width="3" height="17" fill="#0f0"/>
<rect x="269" y="247" width="1" height="45" fill="#000"/>
<rect x="267" y="248" width="5" height="26" fill="#000"/>
<rect x="268" y="249" width="3" height="24" fill="#0f0"/>
<rect x="277" y="265" width="1" height="20" fill="#000"/>
<rect x="275" y="273" width="5" height="4" fill="#000"/>
<rect x="276" y="274" width="3" height="2" fill="#0f0"/>
<rect x="285" y="272" width="1" height="57" fill="#000"/>
<rect x="283" y="275" width="5" height="49" fill="#000"/>
<rect x="284" y="276" width="3" height="47" fill="#0f0"/>
<rect x="293" y="299" width="1" height="38" fill="#000"/>
<rect x="291" y="309" width="5" height="15" fill="#000"/>
<rect x="292" y="310" width="3" height="13" fill="#f00"/>
<rect x="301" y="290" width="1" height="46" fill="#000"/>
<rect x="299" y="309" width="5" height="8" fill="#000"/>
<rect x="300" y="310" width="3" height="6" fill="#0f0"/>
<rect x="309" y="306" width="1" height="64" fill="#000"/>
<rect x="307" y="316" width="5" height="26" fill="#000"/>
<rect x="308" y="317" width="3" height="24" fill="#0f0"/>
<rect x="317" y="331" width="1" height="34" fill="#000"/>
<rect x="315" y="338" width="5" height="4" fill="#000"/>
<rect x="316" y="339" width="3" height="2" fill="#f00"/>
<rect x="325" y="337" width="1" height="9" fill="#000"/>
<rect x="323" y="339" width="5" height="4" fill="#000"/>
<rect x="324" y="340" width="3" height="2" fill="#0f0"/>
<rect x="333" y="315" width="1" height="28" fill="#000"/>
<rect x="331" y="319" width="5" height="22" fill="#000"/>
<rect x="332" y="320" width="3" height="20" fill="#f00"/>
<rect x="341" y="309" width="1" height="29" fill="#000"/>
<rect x="339" y="315" width="5" height="6" fill="#000"/>
<rect x="340" y="316" width="3" height="4" fill="#f00"/>
<rect x="349" y="306" width="1" height="37" fill="#000"/>
<rect x="347" y="316" width="5" height="26" fill="#000"/>
<rect x="348" y="317" width="3" height="24" fill="#0f0"/>
<rect x="357" y="323" width="1" height="68" fill="#000"/>
<rect x="355" y="341" width="5" height="15" fill="#000"/>
<rect x="356" y="342" width="3" height="13" fill="#0f0"/>
<rect x="365" y="352" width="1" height="51" fill="#000"/>
<rect x="363" y="355" width="5" height="44" fill="#000"/>
<rect x="364" y="356" width="3" height="42" fill="#0f0"/>
<rect x="373" y="385" width="1" height="17" fill="#000"/>
<rect x="371" y="388" width="5" height="7" fill="#000"/>
<rect x="372" y="389" width="3" height="5" fill="#f00"/>
<rect x="381" y="376" width="1" height="44" fill="#000"/>
<rect x="379" y="390" width="5" height="28" fill="#000"/>
<rect x="380" y="391" width="3" height="26" fill="#0f0"/>
<rect x="389" y="375" width="1" height="45" fill="#000"/>
<rect x="387" y="394" width="5" height="12" fill="#000"/>
<rect x="388" y="395" width="3" height="10" fill="#0f0"/>
<rect x="397" y="402" width="1" height="27" fill="#000"/>
<rect x="395" y="405" width="5" height="21" fill="#000"/>
<rect x="396" y="406" width="3" height="19" fill="#0f0"/>
<rect x="405" y="418" width="1" height="35" fill="#000"/>
<rect x="403" y="426" width="5" height="13" fill="#000"/>
<rect x="404" y="427" width="3" height="11" fill="#0f0"/>
<rect x="413" y="404" width="1" height="54" fill="#000"/>
<rect x="411" y="438" width="5" height="16" fill="#000"/>
<rect x="412" y="439" width="3" height="14" fill="#0f0"/>
<rect x="421" y="439" width="1" height="35" fill="#000"/>
<rect x="419" y="453" width="5" height="8" fill="#000"/>
<rect x="420" y="454" width="3" height="6" fill="#0f0"/>
<rect x="429" y="441" width="1" height="20" fill="#000"/>
<rect x="427" y="445" width="5" height="16" fill="#000"/>
<rect x="428" y="446" width="3" height="14" fill="#f00"/>
<rect x="437" y="414" width="1" height="34" fill="#000"/>
<rect x="435" y="418" width="5" height="27" fill="#000"/>
<rect x="436" y="419" width="3" height="25" fill="#f00"/>
<rect x="445" y="411" width="1" height="26" fill="#000"/>
<rect x="443" y="418" width="5" height="6" fill="#000"/>
<rect x="444" y="419" width="3" height="4" fill="#0f0"/>
<rect x="453" y="391" width="1" height="38" fill="#000"/>
<rect x="451" y="397" width="5" height="27" fill="#000"/>
<rect x="452" y="398" width="3" height="25" fill="#f00"/>
<rect x="461" y="397" width="1" height="34" fill="#000"/>
<rect x="459" y="397" width="5" height="33" fill="#000"/>
<rect x="460" y="398" width="3" height="31" fill="#0f0"/>
<rect x="469" y="427" width="1" height="26" fill="#000"/>
<rect x="467" y="429" width="5" height="18" fill="#000"/>
<rect x="468" y="430" width="3" height="16" fill="#0f0"/>
<rect x="477" y="431" width="1" height="20" fill="#000"/>
<rect x="475" y="432" width="5" height="15" fill="#000"/>
<rect x="476" y="433" width="3" height="13" fill="#f00"/>
<rect x="485" y="424" width="1" height="29" fill="#000"/>
<rect x="483" y="431" width="5" height="21" fill="#000"/>
<rect x="484" y="432" width="3" height="19" fill="#0f0"/>
<rect x="493" y="410" width="1" height="62" fill="#000"/>
<rect x="491" y="417" width="5" height="35" fill="#000"/>
<rect x="492" y="418" width="3" height="33" fill="#f00"/>
<rect x="501" y="415" width="1" height="50" fill="#000"/>
<rect x="499" y="418" width="5" height="23" fill="#000"/>
<rect x="500" y="419" width="3" height="21" fill="#0f0"/>
<rect x="509" y="401" width="1" height="120" fill="#000"/>
<rect x="507" y="421" width="5" height="19" fill="#000"/>
<rect x="508" y="422" width="3" height="17" fill="#f00"/>
<rect x="517" y="374" width="1" height="59" fill="#000"/>
<rect x="515" y="381" width="5" height="41" fill="#000"/>
<rect x="516" y="382" width="3" height="39" fill="#f00"/>
<rect x="525" y="377" width="1" height="19" fill="#000"/>
<rect x="523" y="379" width="5" height="3" fill="#000"/>
<rect x="524" y="380" width="3" height="1" fill="#f00"/>
<rect x="533" y="359" width="1" height="21" fill="#000"/>
<rect x="531" y="360" width="5" height="19" fill="#000"/>
<rect x="532" y="361" width="3" height="17" fill="#f00"/>
<rect x="541" y="354" width="1" height="24" fill="#000"/>
<rect x="539" y="360" width="5" height="13" fill="#000"/>
<rect x="540" y="361" width="3" height="11" fill="#0f0"/>
<rect x="549" y="349" width="1" height="30" fill="#000"/>
<rect x="547" y="350" width="5" height="23" fill="#000"/>
<rect x="548" y="351" width="3" height="21" fill="#f00"/>
<rect x="557" y="349" width="1" height="17" fill="#000"/>
<rect x="555" y="350" width="5" height="9" fill="#000"/>
<rect x="556" y="351" width="3" height="7" fill="#0f0"/>
<rect x="565" y="355" width="1" height="12" fill="#000"/>
<rect x="563" y="358" width="5" height="9" fill="#000"/>
<rect x="564" y="359" width="3" height="7" fill="#0f0"/>
<rect x="573" y="361" width="1" height="9" fill="#000"/>
<rect x="571" y="364" width="5" height="2" fill="#000"/>
<rect x="581" y="344" width="1" height="36" fill="#000"/>
<rect x="579" y="344" width="5" height="21" fill="#000"/>
<rect x="580" y="345" width="3" height="19" fill="#f00"/>
<rect x="589" y="337" width="1" height="47" fill="#000"/>
<rect x="587" y="344" width="5" height="39" fill="#000"/>
<rect x="588" y="345" width="3" height="37" fill="#0f0"/>
<rect x="597" y="369" width="1" height="26" fill="#000"/>
<rect x="595" y="382" width="5" height="4" fill="#000"/>
<rect x="596" y="383" width="3" height="2" fill="#0f0"/>
<rect x="605" y="377" width="1" height="33" fill="#000"/>
<rect x="603" y="385" width="5" height="5" fill="#000"/>
<rect x="604" y="386" width="3" height="3" fill="#0f0"/>
<rect x="613" y="360" width="1" height="33" fill="#000"/>
<rect x="611" y="366" width="5" height="23" fill="#000"/>
<rect x="612" y="367" width="3" height="21" fill="#f00"/>
<rect x="621" y="361" width="1" height="29" fill="#000"/>
<rect x="619" y="370" width="5" height="16" fill="#000"/>
<rect x="620" y="371" width="3" height="14" fill="#0f0"/>
<rect x="629" y="371" width="1" height="39" fill="#000"/>
<rect x="627" y="385" width="5" height="8" fill="#000"/>
<rect x="628" y="386" width="3" height="6" fill="#0f0"/>
<rect x="637" y="371" width="1" height="28" fill="#000"/>
<rect x="635" y="386" width="5" height="7" fill="#000"/>
<rect x="636" y="387" width="3" height="5" fill="#f00"/>
<rect x="645" y="325" width="1" height="67" fill="#000"/>
<rect x="643" y="349" width="5" height="38" fill="#000"/>
<rect x="644" y="350" width="3" height="36" fill="#f00"/>
<rect x="653" y="346" width="1" height="78" fill="#000"/>
<rect x="651" y="349" width="5" height="64" fill="#000"/>
<rect x="652" y="350" width="3" height="62" fill="#0f0"/>
<rect x="661" y="405" width="1" height="35" fill="#000"/>
<rect x="659" y="412" width="5" height="25" fill="#000"/>
<rect x="660" y="413" width="3" height="23" fill="#0f0"/>
<rect x="669" y="428" width="1" height="13" fill="#000"/>
<rect x="667" y="431" width="5" height="6" fill="#000"/>
<rect x="668" y="432" width="3" height="4" fill="#f00"/>
<rect x="677" y="387" width="1" height="50" fill="#000"/>
<rect x="675" y="388" width="5" height="46" fill="#000"/>
<rect x="676" y="389" width="3" height="44" fill="#f00"/>
<rect x="685" y="366" width="1" height="25" fill="#000"/>
<rect x="683" y="371" width="5" height="18" fill="#000"/>
<rect x="684" y="372" width="3" height="16" fill="#f00"/>
<rect x="693" y="347" width="1" height="33" fill="#000"/>
<rect x="691" y="355" width="5" height="17" fill="#000"/>
<rect x="692" y="356" width="3" height="15" fill="#f00"/>
<rect x="701" y="352" width="1" height="53" fill="#000"/>
<rect x="699" y="355" width="5" height="11" fill="#000"/>
<rect x="700" y="356" width="3" height="9" fill="#0f0"/>
<rect x="709" y="365" width="1" height="31" fill="#000"/>
<rect x="707" y="365" width="5" height="25" fill="#000"/>
<rect x="708" y="366" width="3" height="23" fill="#0f0"/>
<rect x="717" y="388" width="1" height="13" fill="#000"/>
<rect x="715" y="389" width="5" height="8" fill="#000"/>
<rect x="716" y="390" width="3" height="6" fill="#0f0"/>
<rect x="725" y="368" width="1" height="34" fill="#000"/>
<rect x="723" y="368" width="5" height="29" fill="#000"/>
<rect x="724" y="369" width="3" height="27" fill="#f00"/>
<rect x="733" y="358" width="1" height="20" fill="#000"/>
<rect x="731" y="365" width="5" height="4" fill="#000"/>
<rect x="732" y="366" width="3" height="2" fill="#f00"/>
<rect x="741" y="327" width="1" height="40" fill="#000"/>
<rect x="739" y="332" width="5" height="34" fill="#000"/>
<rect x="740" y="333" width="3" height="32" fill="#f00"/>
<rect x="749" y="320" width="1" height="75" fill="#000"/>
<rect x="747" y="331" width="5" height="48" fill="#000"/>
<rect x="748" y="332" width="3" height="46" fill="#0f0"/>
<rect x="757" y="300" width="1" height="115" fill="#000"/>
<rect x="755" y="306" width="5" height="73" fill="#000"/>
<rect x="756" y="307" width="3" height="71" fill="#f00"/>
<rect x="765" y="278" width="1" height="35" fill="#000"/>
<rect x="763" y="279" width="5" height="27" fill="#000"/>
<rect x="764" y="280" width="3" height="25" fill="#f00"/>
<rect x="773" y="247" width="1" height="39" fill="#000"/>
<rect x="771" y="263" width="5" height="17" fill="#000"/>
<rect x="772" y="264" width="3" height="15" fill="#f00"/>
<rect x="781" y="229" width="1" height="45" fill="#000"/>
<rect x="779" y="263" width="5" height="7" fill="#000"/>
<rect x="780" y="264" width="3" height="5" fill="#0f0"/>
<rect x="789" y="241" width="1" height="32" fill="#000"/>
<rect x="787" y="244" width="5" height="26" fill="#000"/>
<rect x="788" y="245" width="3" height="24" fill="#f00"/>
<rect x="797" y="132" width="1" height="113" fill="#000"/>
<rect x="795" y="169" width="5" height="75" fill="#000"/>
<rect x="796" y="170" width="3" height="73" fill="#f00"/>
<rect x="805" y="136" width="1" height="35" fill="#000"/>
<rect x="803" y="136" width="5" height="34" fill="#000"/>
<rect x="804" y="137" width="3" height="32" fill="#f00"/>
<rect x="813" y="131" width="1" height="16" fill="#000"/>
<rect x="811" y="136" width="5" height="6" fill="#000"/>
<rect x="812" y="137" width="3" height="4" fill="#0f0"/>
<rect x="821" y="140" width="1" height="34" fill="#000"/>
<rect x="819" y="141" width="5" height="20" fill="#000"/>
<rect x="820" y="142" width="3" height="18" fill="#0f0"/>
<rect x="829" y="140" width="1" height="33" fill="#000"/>
<rect x="827" y="144" width="5" height="17" fill="#000"/>
<rect x="828" y="145" width="3" height="15" fill="#f00"/>
<rect x="837" y="138" width="1" height="25" fill="#000"/>
<rect x="835" y="144" width="5" height="16" fill="#000"/>
<rect x="836" y="145" width="3" height="14" fill="#0f0"/>
<rect x="845" y="147" width="1" height="108" fill="#000"/>
<rect x="843" y="159" width="5" height="61" fill="#000"/>
<rect x="844" y="160" width="3" height="59" fill="#0f0"/>
<rect x="853" y="158" width="1" height="68" fill="#000"/>
<rect x="851" y="159" width="5" height="62" fill="#000"/>
<rect x="852" y="160" width="3" height="60" fill="#f00"/>
<rect x="861" y="155" width="1" height="24" fill="#000"/>
<rect x="859" y="156" width="5" height="14" fill="#000"/>
<rect x="860" y="157" width="3" height="12" fill="#f00"/>
<rect x="869" y="109" width="1" height="50" fill="#000"/>
<rect x="867" y="111" width="5" height="46" fill="#000"/>
<rect x="868" y="112" width="3" height="44" fill="#f00"/>
<rect x="877" y="104" width="1" height="61" fill="#000"/>
<rect x="875" y="111" width="5" height="42" fill="#000"/>
<rect x="876" y="112" width="3" height="40" fill="#0f0"/>
<rect x="885" y="152" width="1" height="32" fill="#000"/>
<rect x="883" y="152" width="5" height="30" fill="#000"/>
<rect x="884" y="153" width="3" height="28" fill="#0f0"/>
<rect x="893" y="159" width="1" height="122" fill="#000"/>
<rect x="891" y="181" width="5" height="77" fill="#000"/>
<rect x="892" y="182" width="3" height="75" fill="#0f0"/>
<rect x="901" y="250" width="1" height="66" fill="#000"/>
<rect x="899" y="256" width="5" height="48" fill="#000"/>
<rect x="900" y="257" width="3" height="46" fill="#0f0"/>
<rect x="909" y="295" width="1" height="16" fill="#000"/>
<rect x="907" y="297" width="5" height="8" fill="#000"/>
<rect x="908" y="298" width="3" height="6" fill="#f00"/>
<rect x="917" y="265" width="1" height="39" fill="#000"/>
<rect x="915" y="285" width="5" height="14" fill="#000"/>
<rect x="916" y="286" width="3" height="12" fill="#f00"/>
<rect x="925" y="271" width="1" height="38" fill="#000"/>
<rect x="923" y="285" width="5" height="3" fill="#000"/>
<rect x="924" y="286" width="3" height="1" fill="#0f0"/>
<rect x="933" y="252" width="1" height="47" fill="#000"/>
<rect x="931" y="252" width="5" height="36" fill="#000"/>
<rect x="932" y="253" width="3" height="34" fill="#f00"/>
<rect x="941" y="243" width="1" height="49" fill="#000"/>
<rect x="939" y="252" width="5" height="32" fill="#000"/>
<rect x="940" y="253" width="3" height="30" fill="#0f0"/>
<rect x="949" y="265" width="1" height="44" fill="#000"/>
<rect x="947" y="282" width="5" height="7" fill="#000"/>
<rect x="948" y="283" width="3" height="5" fill="#0f0"/>
<rect x="957" y="282" width="1" height="9" fill="#000"/>
<rect x="955" y="288" width="5" height="3" fill="#000"/>
<rect x="956" y="289" width="3" height="1" fill="#0f0"/>
<rect x="965" y="270" width="1" height="32" fill="#000"/>
<rect x="963" y="280" width="5" height="11" fill="#000"/>
<rect x="964" y="281" width="3" height="9" fill="#f00"/>
<rect x="973" y="270" width="1" height="27" fill="#000"/>
<rect x="971" y="280" width="5" height="2" fill="#000"/>
<rect x="981" y="267" width="1" height="23" fill="#000"/>
<rect x="979" y="281" width="5" height="8" fill="#000"/>
<rect x="980" y="282" width="3" height="6" fill="#0f0"/>
<rect x="989" y="210" width="1" height="82" fill="#000"/>
<rect x="987" y="244" width="5" height="45" fill="#000"/>
<rect x="988" y="245" width="3" height="43" fill="#f00"/>
<rect x="997" y="197" width="1" height="68" fill="#000"/>
<rect x="995" y="200" width="5" height="45" fill="#000"/>
<rect x="996" y="201" width="3" height="43" fill="#f00"/>
<rect x="1005" y="199" width="1" height="23" fill="#000"/>
<rect x="1003" y="200" width="5" height="15" fill="#000"/>
<rect x="1004" y="201" width="3" height="13" fill="#0f0"/>
<rect x="1013" y="208" width="1" height="33" fill="#000"/>
<rect x="1011" y="213" width="5" height="16" fill="#000"/>
<rect x="1012" y="214" width="3" height="14" fill="#0f0"/>
<rect x="1021" y="213" width="1" height="26" fill="#000"/>
<rect x="1019" y="219" width="5" height="11" fill="#000"/>
<rect x="1020" y="220" width="3" height="9" fill="#f00"/>
<rect x="1029" y="219" width="1" height="21" fill="#000"/>
<rect x="1027" y="219" width="5" height="11" fill="#000"/>
<rect x="1028" y="220" width="3" height="9" fill="#0f0"/>
<rect x="1037" y="176" width="1" height="56" fill="#000"/>
<rect x="1035" y="198" width="5" height="32" fill="#000"/>
<rect x="1036" y="199" width="3" height="30" fill="#f00"/>
<rect x="1045" y="190" width="1" height="27" fill="#000"/>
<rect x="1043" y="198" width="5" height="4" fill="#000"/>
<rect x="1044" y="199" width="3" height="2" fill="#0f0"/>
<rect x="1053" y="198" width="1" height="13" fill="#000"/>
<rect x="1051" y="202" width="5" height="2" fill="#000"/>
<rect x="1061" y="172" width="1" height="36" fill="#000"/>
<rect x="1059" y="174" width="5" height="30" fill="#000"/>
<rect x="1060" y="175" width="3" height="28" fill="#f00"/>
<rect x="1069" y="163" width="1" height="33" fill="#000"/>
<rect x="1067" y="174" width="5" height="13" fill="#000"/>
<rect x="1068" y="175" width="3" height="11" fill="#0f0"/>
<rect x="1077" y="146" width="1" height="59" fill="#000"/>
<rect x="1075" y="150" width="5" height="37" fill="#000"/>
<rect x="1076" y="151" width="3" height="35" fill="#f00"/>
<rect x="1085" y="132" width="1" height="68" fill="#000"/>
<rect x="1083" y="150" width="5" height="18" fill="#000"/>
<rect x="1084" y="151" width="3" height="16" fill="#0f0"/>
<rect x="1093" y="123" width="1" height="49" fill="#000"/>
<rect x="1091" y="153" width="5" height="15" fill="#000"/>
<rect x="1092" y="154" width="3" height="13" fill="#f00"/>
<rect x="1101" y="165" width="1" height="13" fill="#000"/>
<rect x="1099" y="174" width="5" height="3" fill="#000"/>
<rect x="1100" y="175" width="3" height="1" fill="#0f0"/>
<rect x="1109" y="177" width="1" height="39" fill="#000"/>
<rect x="1107" y="177" width="5" height="35" fill="#000"/>
<rect x="1108" y="178" width="3" height="33" fill="#0f0"/>
<rect x="1117" y="190" width="1" height="32" fill="#000"/>
<rect x="1115" y="193" width="5" height="19" fill="#000"/>
<rect x="1116" y="194" width="3" height="17" fill="#f00"/>
<rect x="1125" y="173" width="1" height="32" fill="#000"/>
<rect x="1123" y="179" width="5" height="15" fill="#000"/>
<rect x="1124" y="180" width="3" height="13" fill="#f00"/>
<rect x="1133" y="177" width="1" height="56" fill="#000"/>
<rect x="1131" y="178" width="5" height="47" fill="#000"/>
<rect x="1132" y="179" width="3" height="45" fill="#0f0"/>
<rect x="1141" y="222" width="1" height="37" fill="#000"/>
<rect x="1139" y="223" width="5" height="17" fill="#000"/>
<rect x="1140" y="224" width="3" height="15" fill="#0f0"/>
<rect x="1149" y="236" width="1" height="14" fill="#000"/>
<rect x="1147" y="237" width="5" height="4" fill="#000"/>
<rect x="1148" y="238" width="3" height="2" fill="#f00"/>
<rect x="1157" y="218" width="1" height="24" fill="#000"/>
<rect x="1155" y="235" width="5" height="3" fill="#000"/>
<rect x="1156" y="236" width="3" height="1" fill="#f00"/>
<rect x="1165" y="206" width="1" height="37" fill="#000"/>
<rect x="1163" y="209" width="5" height="27" fill="#000"/>
<rect x="1164" y="210" width="3" height="25" fill="#f00"/>
<rect x="1173" y="207" width="1" height="29" fill="#000"/>
<rect x="1171" y="209" width="5" height="3" fill="#000"/>
<rect x="1172" y="210" width="3" height="1" fill="#0f0"/>
<rect x="1181" y="35" width="1" height="181" fill="#000"/>
<rect x="1179" y="105" width="5" height="107" fill="#000"/>
<rect x="1180" y="106" width="3" height="105" fill="#f00"/>
<rect x="1189" y="80" width="1" height="47" fill="#000"/>
<rect x="1187" y="97" width="5" height="9" fill="#000"/>
<rect x="1188" y="98" width="3" height="7" fill="#f00"/>
<rect x="1197" y="91" width="1" height="17" fill="#000"/>
<rect x="1195" y="97" width="5" height="10" fill="#000"/>
<rect x="1196" y="98" width="3" height="8" fill="#0f0"/>
<rect x="1205" y="91" width="1" height="19" fill="#000"/>
<rect x="1203" y="103" width="5" height="4" fill="#000"/>
<rect x="1204" y="104" width="3" height="2" fill="#f00"/>
</g>
<rect x="5" y="148" width="1522" height="4" fill="#00f"/>
<rect x="5" y="291" width="1522" height="4" fill="#00f"/>
<rect x="4" y="4" width="1522" height="1" fill="#000"/>
<rect x="4" y="4" width="1" height="781" fill="#000"/>
<rect x="1525" y="4" width="1" height="630" fill="#000"/>
<rect x="4" y="633" width="1522" height="1" fill="#000"/>
<rect x="4" y="635" width="1522" height="1" fill="#000"/>
<rect x="1526" y="637" width="1" height="1" fill="#000"/>
<rect x="1526" y="783" width="1" height="1" fill="#000"/>
<rect x="1525" y="635" width="1" height="150" fill="#000"/>
<rect x="4" y="784" width="1522" height="1" fill="#000"/>
<rect x="1526" y="13" width="2" height="1" fill="#000"/>
<rect x="1526" y="78" width="2" height="1" fill="#000"/>
<rect x="1526" y="143" width="2" height="1" fill="#000"/>
<rect x="1526" y="208" width="2" height="1" fill="#000"/>
<rect x="1526" y="273" width="2" height="1" fill="#000"/>
<rect x="1526" y="338" width="2" height="1" fill="#000"/>
<rect x="1526" y="403" width="2" height="1" fill="#000"/>
<rect x="1526" y="468" width="2" height="1" fill="#000"/>
<rect x="1526" y="533" width="2" height="1" fill="#000"/>
<rect x="1526" y="598" width="2" height="1" fill="#000"/>
<rect x="1526" y="749" width="1" height="1" fill="#000"/>
<rect x="5" y="785" width="1" height="3" fill="#000"/>
<rect x="133" y="785" width="1" height="3" fill="#000"/>
<rect x="261" y="785" width="1" height="3" fill="#000"/>
<rect x="389" y="785" width="1" height="3" fill="#000"/>
<rect x="517" y="785" width="1" height="3" fill="#000"/>
<rect x="645" y="785" width="1" height="3" fill="#000"/>
<rect x="773" y="785" width="1" height="3" fill="#000"/>
<rect x="901" y="785" width="1" height="3" fill="#000"/>
<rect x="1029" y="785" width="1" height="3" fill="#000"/>
<rect x="1157" y="785" width="1" height="3" fill="#000"/>
<path d="M1211.5 4.5H1227.5L1219.5 12.5Z" fill="#778899"/>
<path d="M7.5 12H19.5L13.5 18Z" fill="#000"/>
</g>
<polyline points="7.1,696.90 13.5,693.20 21.5,689.80 29.5,686.10 37.5,683.20 45.5,681.50 53.5,681.50 61.5,681.50 69.5,681.39 77.5,680.17 85.5,678.17 93.5,675.94 101.5,672.72 109.5,668.83 117.5,664.61 125.5,659.94 133.5,655.17 141.5,651.83 149.5,650.28 157.5,649.83 165.5,649.72 173.5,650.28 181.5,651.50 189.5,653.39 197.5,655.06 205.5,656.94 213.5,659.39 221.5,661.39 229.5,663.17 237.5,665.61 245.5,668.28 253.5,670.72 261.5,673.17 269.5,676.39 277.5,679.83 285.5,683.61 293.5,687.72 301.5,692.39 309.5,697.06 317.5,702.06 325.5,707.39 333.5,712.72 341.5,717.61 349.5,722.39 357.5,726.72 365.5,731.17 373.5,735.39 381.5,739.61 389.5,743.50 397.5,747.39 405.5,751.39 413.5,755.72 421.5,760.06 429.5,764.06 437.5,767.17 445.5,769.72 453.5,771.39 461.5,772.50 469.5,773.39 477.5,773.72 485.5,773.72 493.5,773.06 501.5,772.28 509.5,771.50 517.5,770.28 525.5,768.83 533.5,767.06 541.5,764.72 549.5,762.17 557.5,759.17 565.5,756.28 573.5,753.28 581.5,750.28 589.5,747.94 597.5,746.17 605.5,745.17 613.5,744.50 621.5,744.17 629.5,744.28 637.5,744.61 645.5,744.94 653.5,745.72 661.5,746.83 669.5,748.17 677.5,749.17 685.5,749.94 693.5,750.39 701.5,750.50 709.5,750.61 717.5,750.94 725.5,750.94 733.5,750.28 741.5,748.94 749.5,747.83 757.5,746.39 765.5,744.61 773.5,742.50 781.5,739.83 789.5,736.61 797.5,732.50 805.5,727.61 813.5,722.39 821.5,716.72 829.5,711.39 837.5,706.61 845.5,702.94 853.5,699.72 861.5,697.17 869.5,695.17 877.5,694.28 885.5,694.61 893.5,696.39 901.5,699.61 909.5,703.94 917.5,708.50 925.5,713.61 933.5,718.61 941.5,724.50 949.5,730.50 957.5,736.39 965.5,741.28 973.5,745.06 981.5,748.06 989.5,749.94 997.5,750.72 1005.5,751.06 1013.5,750.83 1021.5,750.17 1029.5,749.06 1037.5,747.50 1045.5,745.72 1053.5,743.50 1061.5,741.39 1069.5,739.72 1077.5,737.94 1085.5,736.17 1093.5,734.39 1101.5,732.72 1109.5,731.72 1117.5,730.94 1125.5,730.50 1133.5,730.72 1141.5,731.50 1149.5,733.17 1157.5,735.17 1165.5,737.39 1173.5,739.61 1181.5,740.61 1189.5,740.72 1197.5,740.28 1205.5,738.94" fill="none" stroke="#f00" stroke-width="3.1" stroke-linejoin="round" stroke-linecap="square" shape-rendering="crispEdges"/>
<line x1="1213" y1="147.5" x2="1262" y2="27" stroke="#f00" stroke-width="5.5" stroke-linecap="round"/>
<path d="M1250.3 24.5L1274.6 -4.4L1272.2 33.8Z" fill="#f00"/>
<text x="1532.11 1540.11 1548.11 1556.11 1564.06 1568.11 1576.11" y="19">1829.00</text>
<text x="1532.11 1540.11 1548.11 1556.11 1564.06 1568.11 1576.11" y="84">1815.40</text>
<text x="1532.11 1540.11 1548.11 1556.11 1564.06 1568.11 1576.11" y="149">1801.80</text>
<text x="1532.11 1540.11 1548.11 1556.11 1564.06 1568.11 1576.11" y="214">1788.00</text>
<text x="1532.11 1540.11 1548.11 1556.11 1564.06 1568.11 1576.11" y="279">1774.40</text>
<text x="1532.11 1540.11 1548.11 1556.11 1564.06 1568.11 1576.11" y="344">1760.80</text>
<text x="1532.11 1540.11 1548.11 1556.11 1564.06 1568.11 1576.11" y="409">1747.20</text>
<text x="1532.11 1540.11 1548.11 1556.11 1564.06 1568.11 1576.11" y="474">1733.60</text>
<text x="1532.11 1540.11 1548.11 1556.11 1564.06 1568.11 1576.11" y="539">1719.80</text>
<text x="1532.11 1540.11 1548.11 1556.11 1564.06 1568.11 1576.11" y="604">1706.20</text>
<g shape-rendering="crispEdges"><rect x="1527" y="95" width="62" height="17" fill="#000"/>
<rect x="1527" y="144" width="62" height="17" fill="#00f"/>
<rect x="1527" y="287" width="62" height="17" fill="#00f"/>
</g>
<text x="1532.11 1540.11 1548.11 1556.11 1564.06 1568.11 1576.11" y="109" class="w">1810.22</text>
<text x="1532.11 1540.11 1548.11 1556.11 1564.06 1568.11 1576.11" y="158" class="w">1800.21</text>
<text x="1532.11 1540.11 1548.11 1556.11 1564.06 1568.11 1576.11" y="301" class="w">1770.18</text>
<text x="1529.11 1537.11 1545.06 1549.11 1557.11 1565.11" y="651">24.889</text>
<text x="1529.11 1537.06 1541.11 1549.11" y="755">0.00</text>
<text x="1529.17 1534.11 1542.06 1546.11 1554.11 1562.11" y="780">-7.492</text>
<text x="25.33 33.33 41.44 50.44 59.33 67.74 77.77 82.66 86.04 95.71" y="21">XAUUSD-,H4</text>
<text x="112.11 120.11 128.11 136.11 144.06 148.11 156.11" y="21">1809.56</text>
<text x="168.11 176.11 184.11 192.11 200.06 204.11 212.11" y="21">1812.60</text>
<text x="224.11 232.11 240.11 248.11 256.06 260.11 268.11" y="21">1808.79</text>
<text x="280.11 288.11 296.11 304.11 312.06 316.11 324.11" y="21">1810.22</text>
<text x="8.67 19.33 26.94 35.74 45.77 50.71 58.71 66.66 70.71 78.71 86.66 90.71 98.77 103.66 107.71 115.66 119.71 127.71 135.71 143.66 147.71 155.66 159.71 167.71 175.71" y="653">MACD(12,26,9) 5.542 2.438</text>
<text x="4.11 12.06 15.69 25.61 33.75 41.06 45.11 53.11 61.11 69.11" y="802">9 Nov 2022</text>
<text x="132.11 140.11 148.06 151.69 161.61 169.75 177.06 181.11 189.11 197.56 202.11 210.11" y="802">13 Nov 23:00</text>
<text x="260.11 268.11 276.06 279.69 289.61 297.75 305.06 309.11 317.11 325.56 330.11 338.11" y="802">16 Nov 12:00</text>
<text x="388.11 396.11 404.06 407.69 417.61 425.75 433.06 437.11 445.11 453.56 458.11 466.11" y="802">21 Nov 00:00</text>
<text x="516.11 524.11 532.06 535.69 545.61 553.75 561.06 565.11 573.11 581.56 586.11 594.11" y="802">23 Nov 16:00</text>
<text x="644.11 652.11 660.06 663.69 673.61 681.75 689.06 693.11 701.11 709.56 714.11 722.11" y="802">28 Nov 08:00</text>
<text x="772.11 780.06 783.74 793.61 800.95 807.56 811.61 819.61 828.06 832.61 840.61" y="802">1 Dec 00:00</text>
<text x="900.11 908.06 911.74 921.61 928.95 935.56 939.61 947.61 956.06 960.61 968.61" y="802">5 Dec 16:00</text>
<text x="1028.11 1036.06 1039.74 1049.61 1056.95 1063.56 1067.61 1075.61 1084.06 1088.61 1096.61" y="802">8 Dec 08:00</text>
<text x="1156.11 1164.11 1172.06 1175.74 1185.61 1192.95 1199.56 1203.61 1211.61 1220.06 1224.61 1232.61" y="802">13 Dec 00:00</text>
</svg></body></html>
